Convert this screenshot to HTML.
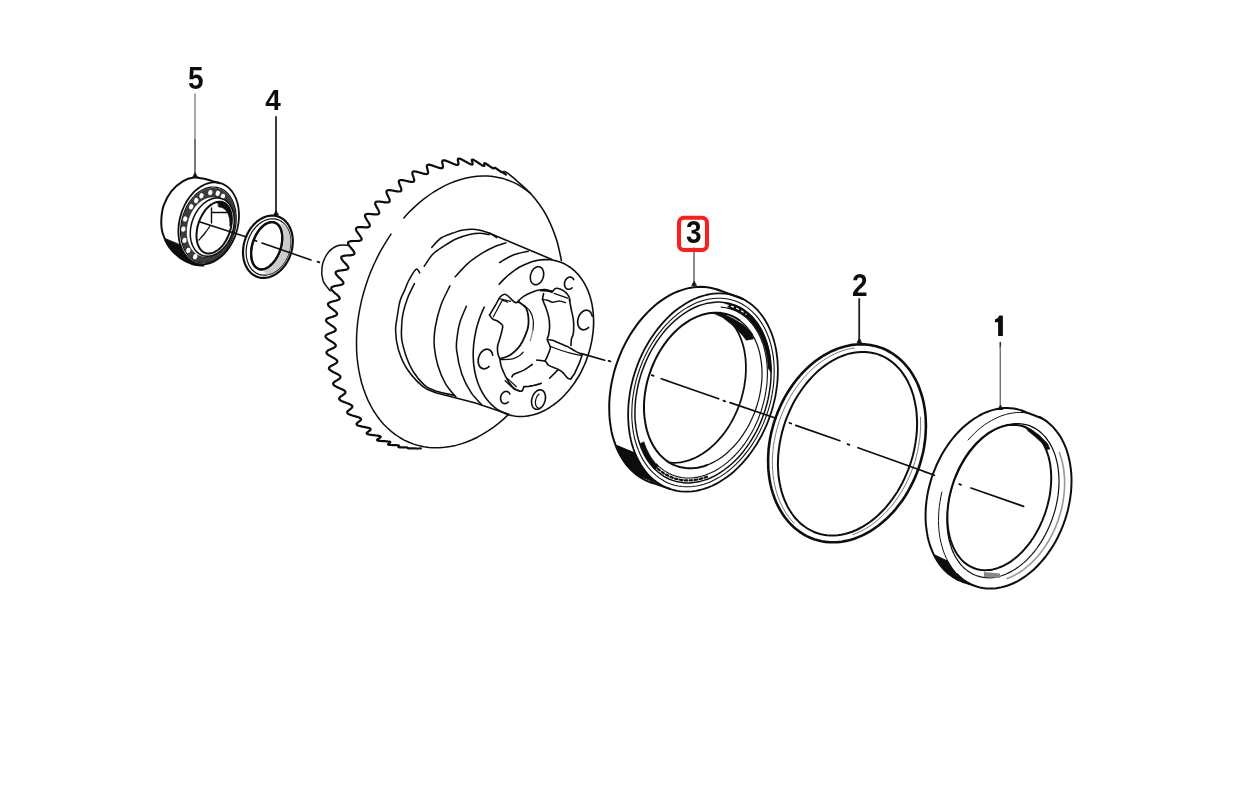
<!DOCTYPE html>
<html><head><meta charset="utf-8"><title>Parts diagram</title>
<style>
html,body{margin:0;padding:0;background:#fff;}
body{width:1256px;height:796px;overflow:hidden;font-family:"Liberation Sans",sans-serif;}
svg{display:block;}
text{font-family:"Liberation Sans",sans-serif;font-weight:bold;fill:#111;}
</style></head><body>
<svg width="1256" height="796" viewBox="0 0 1256 796" stroke-linecap="round" stroke-linejoin="round">
<defs><filter id="soft" x="0" y="0" width="1256" height="796" filterUnits="userSpaceOnUse"><feGaussianBlur stdDeviation="0.45"/></filter></defs>
<rect width="1256" height="796" fill="#fff"/>
<g filter="url(#soft)">
<text transform="translate(195.7 89.4) scale(1 1.09)" x="0" y="0" font-size="28" text-anchor="middle">5</text>
<text transform="translate(273.0 109.8) scale(1 1.03)" x="0" y="0" font-size="28" text-anchor="middle">4</text>
<text transform="translate(693.8 243.0) scale(1 1.09)" x="0" y="0" font-size="28" text-anchor="middle">3</text>
<text transform="translate(859.7 296.0) scale(1 1.09)" x="0" y="0" font-size="28" text-anchor="middle">2</text>
<path d="M999.3 315.4 L1002.9 315.4 L1002.9 336 L998.1 336 L998.1 322.2 L994.9 322.2 L994.9 319.6 Q998.2 318.6 999.3 315.4Z" fill="#111"/>
<path d="M195.0 94.0 L195.0 140.0" fill="none" stroke="#8a8a8a" stroke-width="1.5"/>
<path d="M195.0 140.0 L195.0 176.0" fill="none" stroke="#4a4a4a" stroke-width="1.5"/>
<path d="M276.0 117.0 L276.0 214.0" fill="none" stroke="#222" stroke-width="1.8"/>
<path d="M694.0 248.0 L694.0 285.0" fill="none" stroke="#666" stroke-width="1.5"/>
<path d="M859.2 299.0 L859.2 342.0" fill="none" stroke="#222" stroke-width="1.8"/>
<path d="M1000.3 342.5 L1000.3 347.0" fill="none" stroke="#333" stroke-width="1.6"/>
<path d="M1000.3 347.0 L1000.3 408.0" fill="none" stroke="#777" stroke-width="1.5"/>
<path d="M195.0 173.0 l-2.2 4 h4.4z" fill="#111" stroke="#111" stroke-width="0.8"/>
<path d="M276.0 211.0 l-2.2 4 h4.4z" fill="#111" stroke="#111" stroke-width="0.8"/>
<path d="M694.0 281.5 l-2.2 4 h4.4z" fill="#111" stroke="#111" stroke-width="0.8"/>
<path d="M859.2 338.8 l-2.2 4 h4.4z" fill="#111" stroke="#111" stroke-width="0.8"/>
<path d="M1000.3 405.5 l-2.2 4 h4.4z" fill="#111" stroke="#111" stroke-width="0.8"/>
<rect x="679" y="217.8" width="28" height="32.2" rx="5" ry="5" fill="none" stroke="#ff1a1a" stroke-width="4"/>
<path d="M164.6 238.6 C165.3 239.9 166.2 243.5 168.8 246.7 C171.4 249.9 176.1 255.1 180.1 258.0 C184.1 260.9 189.4 263.1 192.7 264.3 C196.0 265.5 198.8 265.2 200.0 265.4 L193.3 261.9 L191.8 261.1 L190.5 260.2 L189.2 259.1 L187.9 258.0 L186.7 256.7 L185.6 255.4 L184.6 253.9 L183.6 252.4 L182.7 250.7 L181.9 249.0 L181.1 247.2 L180.5 245.3Z" fill="#111" stroke="#111" stroke-width="1.0" />
<path d="M219.5 183.2 C218.1 182.8 213.8 181.4 211.0 180.6 C208.2 179.8 205.8 179.1 203.0 178.6 C200.2 178.1 197.4 177.1 194.0 177.5 C190.6 177.9 186.5 179.0 182.7 181.3 C178.9 183.6 174.5 187.4 171.3 191.4 C168.2 195.4 165.5 200.4 163.8 205.2 C162.1 210.0 161.5 215.7 161.3 220.3 C161.1 224.9 161.2 228.4 162.5 232.8 C163.8 237.2 165.9 242.5 168.8 246.7 C171.7 250.9 176.1 255.1 180.1 258.0 C184.1 260.9 188.8 263.0 192.7 264.3 C196.6 265.6 201.7 265.4 203.5 265.6" fill="none" stroke="#111" stroke-width="2.0" />
<path d="M220.4 183.2 L221.8 183.6 L223.2 184.2 L224.6 184.9 L225.9 185.7 L227.2 186.6 L228.4 187.6 L229.6 188.7 L230.7 189.9 L231.8 191.2 L232.8 192.6 L233.7 194.1 L234.6 195.6 L235.3 197.2 L236.1 198.9 L236.7 200.7 L237.3 202.5 L237.8 204.3 L238.2 206.3 L238.5 208.2 L238.7 210.3 L238.9 212.3 L239.0 214.4 L239.0 216.5 L238.9 218.6 L238.7 220.8 L238.5 222.9 L238.1 225.0 L237.7 227.2 L237.2 229.3 L236.6 231.4 L236.0 233.5 L235.3 235.6 L234.5 237.6 L233.6 239.6 L232.7 241.5 L231.7 243.4 L230.6 245.3 L229.5 247.0 L228.3 248.8 L227.1 250.4 L225.8 252.0 L224.5 253.5 L223.1 254.9 L221.7 256.2 L220.2 257.4 L218.7 258.6 L217.2 259.6 L215.7 260.5 L214.1 261.4 L212.6 262.1 L211.0 262.8 L209.4 263.3 L207.8 263.7 L206.2 264.0 L204.7 264.2 L203.1 264.3 L201.6 264.2 L200.0 264.1 L198.5 263.8 L197.0 263.4 L195.6 263.0 L194.2 262.4 L192.8 261.7 L191.5 260.9 L190.2 260.0 L189.0 259.0 L187.8 257.9 L186.7 256.7 L185.6 255.4 L184.6 254.0 L183.7 252.5 L182.8 251.0 L182.1 249.4 L181.3 247.7 L180.7 245.9 L180.1 244.1 L179.6 242.3 L179.2 240.3 L178.9 238.4 L178.7 236.3 L178.5 234.3 L178.4 232.2 L178.4 230.1 L178.5 228.0 L178.7 225.8 L178.9 223.7 L179.3 221.6 L179.7 219.4 L180.2 217.3 L180.8 215.2 L181.4 213.1 L182.1 211.0 L182.9 209.0 L183.8 207.0 L184.7 205.1 L185.7 203.2 L186.8 201.3 L187.9 199.6 L189.1 197.8 L190.3 196.2 L191.6 194.6 L192.9 193.1 L194.3 191.7 L195.7 190.4 L197.2 189.2 L198.7 188.0 L200.2 187.0 L201.7 186.1 L203.3 185.2 L204.8 184.5 L206.4 183.8 L208.0 183.3 L209.6 182.9 L211.2 182.6 L212.7 182.4 L214.3 182.3 L215.8 182.4 L217.4 182.5 L218.9 182.8 L220.4 183.2Z" fill="none" stroke="#111" stroke-width="1.8" />
<path d="M217.9 187.6 L219.3 188.0 L220.6 188.5 L221.9 189.1 L223.2 189.8 L224.4 190.6 L225.6 191.5 L226.7 192.5 L227.8 193.5 L228.8 194.7 L229.7 195.9 L230.6 197.3 L231.5 198.7 L232.3 200.1 L233.0 201.7 L233.6 203.3 L234.2 204.9 L234.7 206.6 L235.2 208.4 L235.5 210.2 L235.8 212.1 L236.0 214.0 L236.2 215.9 L236.2 217.8 L236.2 219.8 L236.1 221.8 L236.0 223.7 L235.7 225.7 L235.4 227.7 L235.0 229.7 L234.6 231.7 L234.0 233.6 L233.4 235.5 L232.7 237.4 L232.0 239.3 L231.2 241.1 L230.3 242.9 L229.4 244.6 L228.4 246.3 L227.4 247.9 L226.3 249.5 L225.1 251.0 L224.0 252.4 L222.7 253.7 L221.5 255.0 L220.2 256.2 L218.8 257.3 L217.5 258.3 L216.1 259.2 L214.7 260.0 L213.2 260.7 L211.8 261.4 L210.3 261.9 L208.9 262.3 L207.4 262.6 L206.0 262.9 L204.5 263.0 L203.1 263.0 L201.7 262.9 L200.2 262.7 L198.9 262.4 L197.5 262.0 L196.2 261.5 L194.9 260.9 L193.6 260.2 L192.4 259.4 L191.2 258.5 L190.1 257.5 L189.0 256.5 L188.0 255.3 L187.1 254.1 L186.2 252.7 L185.3 251.3 L184.5 249.9 L183.8 248.3 L183.2 246.7 L182.6 245.1 L182.1 243.4 L181.6 241.6 L181.3 239.8 L181.0 237.9 L180.8 236.0 L180.6 234.1 L180.6 232.2 L180.6 230.2 L180.7 228.2 L180.8 226.3 L181.1 224.3 L181.4 222.3 L181.8 220.3 L182.2 218.3 L182.8 216.4 L183.4 214.5 L184.1 212.6 L184.8 210.7 L185.6 208.9 L186.5 207.1 L187.4 205.4 L188.4 203.7 L189.4 202.1 L190.5 200.5 L191.7 199.0 L192.8 197.6 L194.1 196.3 L195.3 195.0 L196.6 193.8 L198.0 192.7 L199.3 191.7 L200.7 190.8 L202.1 190.0 L203.6 189.3 L205.0 188.6 L206.5 188.1 L207.9 187.7 L209.4 187.4 L210.8 187.1 L212.3 187.0 L213.7 187.0 L215.1 187.1 L216.6 187.3 L217.9 187.6Z" fill="none" stroke="#111" stroke-width="1.2" />
<path d="M217.7 188.7 L219.1 189.1 L220.4 189.6 L221.6 190.1 L222.9 190.8 L224.0 191.6 L225.2 192.5 L226.3 193.4 L227.3 194.5 L228.3 195.6 L229.3 196.8 L230.2 198.1 L231.0 199.5 L231.8 200.9 L232.5 202.4 L233.1 204.0 L233.7 205.6 L234.2 207.3 L234.6 209.0 L234.9 210.8 L235.2 212.6 L235.4 214.5 L235.6 216.4 L235.6 218.3 L235.6 220.2 L235.5 222.1 L235.4 224.1 L235.1 226.0 L234.8 228.0 L234.4 229.9 L234.0 231.8 L233.5 233.7 L232.9 235.6 L232.2 237.5 L231.5 239.3 L230.7 241.1 L229.8 242.8 L228.9 244.5 L228.0 246.2 L227.0 247.7 L225.9 249.3 L224.8 250.7 L223.6 252.1 L222.4 253.4 L221.2 254.7 L219.9 255.8 L218.6 256.9 L217.2 257.9 L215.9 258.8 L214.5 259.6 L213.1 260.3 L211.7 260.9 L210.3 261.4 L208.9 261.8 L207.4 262.2 L206.0 262.4 L204.6 262.5 L203.2 262.5 L201.8 262.4 L200.4 262.2 L199.1 261.9 L197.7 261.5 L196.4 261.0 L195.2 260.5 L193.9 259.8 L192.8 259.0 L191.6 258.1 L190.5 257.2 L189.5 256.1 L188.5 255.0 L187.5 253.8 L186.6 252.5 L185.8 251.1 L185.0 249.7 L184.3 248.2 L183.7 246.6 L183.1 245.0 L182.6 243.3 L182.2 241.6 L181.9 239.8 L181.6 238.0 L181.4 236.1 L181.2 234.2 L181.2 232.3 L181.2 230.4 L181.3 228.5 L181.4 226.5 L181.7 224.6 L182.0 222.6 L182.4 220.7 L182.8 218.8 L183.3 216.9 L183.9 215.0 L184.6 213.1 L185.3 211.3 L186.1 209.5 L187.0 207.8 L187.9 206.1 L188.8 204.4 L189.8 202.9 L190.9 201.3 L192.0 199.9 L193.2 198.5 L194.4 197.2 L195.6 195.9 L196.9 194.8 L198.2 193.7 L199.6 192.7 L200.9 191.8 L202.3 191.0 L203.7 190.3 L205.1 189.7 L206.5 189.2 L207.9 188.8 L209.4 188.4 L210.8 188.2 L212.2 188.1 L213.6 188.1 L215.0 188.2 L216.4 188.4 L217.7 188.7ZM216.2 197.5 L215.1 197.3 L214.0 197.1 L212.8 197.1 L211.7 197.1 L210.5 197.2 L209.4 197.3 L208.2 197.6 L207.0 197.9 L205.9 198.3 L204.7 198.8 L203.6 199.4 L202.5 200.0 L201.4 200.7 L200.3 201.5 L199.2 202.4 L198.2 203.3 L197.2 204.3 L196.2 205.4 L195.2 206.5 L194.3 207.7 L193.5 208.9 L192.6 210.1 L191.9 211.5 L191.1 212.8 L190.4 214.2 L189.8 215.7 L189.2 217.1 L188.7 218.6 L188.2 220.1 L187.8 221.7 L187.4 223.2 L187.1 224.8 L186.9 226.3 L186.7 227.9 L186.5 229.5 L186.5 231.0 L186.5 232.6 L186.5 234.1 L186.6 235.6 L186.8 237.1 L187.1 238.6 L187.4 240.0 L187.7 241.4 L188.1 242.7 L188.6 244.1 L189.1 245.3 L189.7 246.5 L190.3 247.7 L191.0 248.8 L191.7 249.8 L192.5 250.8 L193.3 251.7 L194.2 252.6 L195.1 253.4 L196.0 254.1 L197.0 254.7 L198.0 255.3 L199.0 255.7 L200.1 256.1 L201.2 256.5 L202.3 256.7 L203.4 256.9 L204.6 256.9 L205.7 256.9 L206.9 256.8 L208.0 256.7 L209.2 256.4 L210.4 256.1 L211.5 255.7 L212.7 255.2 L213.8 254.6 L214.9 254.0 L216.0 253.3 L217.1 252.5 L218.2 251.6 L219.2 250.7 L220.2 249.7 L221.2 248.6 L222.2 247.5 L223.1 246.3 L223.9 245.1 L224.8 243.9 L225.5 242.5 L226.3 241.2 L227.0 239.8 L227.6 238.3 L228.2 236.9 L228.7 235.4 L229.2 233.9 L229.6 232.3 L230.0 230.8 L230.3 229.2 L230.5 227.7 L230.7 226.1 L230.9 224.5 L230.9 223.0 L230.9 221.4 L230.9 219.9 L230.8 218.4 L230.6 216.9 L230.3 215.4 L230.0 214.0 L229.7 212.6 L229.3 211.3 L228.8 209.9 L228.3 208.7 L227.7 207.5 L227.1 206.3 L226.4 205.2 L225.7 204.2 L224.9 203.2 L224.1 202.3 L223.2 201.4 L222.3 200.6 L221.4 199.9 L220.4 199.3 L219.4 198.7 L218.4 198.3 L217.3 197.9 L216.2 197.5Z" fill="#3a3a3a" stroke="#111" stroke-width="0.5" fill-rule="evenodd"/>
<ellipse cx="201.5" cy="195.8" rx="2.1" ry="2.7" fill="#fff" stroke="none" transform="rotate(15 201.5 195.8)"/>
<ellipse cx="210.3" cy="192.6" rx="2.1" ry="2.7" fill="#fff" stroke="none" transform="rotate(15 210.3 192.6)"/>
<ellipse cx="217.8" cy="193.3" rx="2.1" ry="2.7" fill="#fff" stroke="none" transform="rotate(15 217.8 193.3)"/>
<ellipse cx="222.9" cy="196.4" rx="2.1" ry="2.7" fill="#fff" stroke="none" transform="rotate(15 222.9 196.4)"/>
<ellipse cx="196.2" cy="200.5" rx="2.1" ry="2.7" fill="#fff" stroke="none" transform="rotate(15 196.2 200.5)"/>
<ellipse cx="191.2" cy="206.8" rx="2.1" ry="2.7" fill="#fff" stroke="none" transform="rotate(15 191.2 206.8)"/>
<ellipse cx="185.2" cy="219.0" rx="2.1" ry="2.7" fill="#fff" stroke="none" transform="rotate(15 185.2 219.0)"/>
<ellipse cx="183.3" cy="229.1" rx="2.1" ry="2.7" fill="#fff" stroke="none" transform="rotate(15 183.3 229.1)"/>
<ellipse cx="184.5" cy="240.4" rx="2.1" ry="2.7" fill="#fff" stroke="none" transform="rotate(15 184.5 240.4)"/>
<ellipse cx="188.3" cy="250.4" rx="2.1" ry="2.7" fill="#fff" stroke="none" transform="rotate(15 188.3 250.4)"/>
<ellipse cx="195.2" cy="256.7" rx="2.1" ry="2.7" fill="#fff" stroke="none" transform="rotate(15 195.2 256.7)"/>
<path d="M222.0 198.8 L223.0 199.2 L224.0 199.7 L225.0 200.2 L225.9 200.8 L226.8 201.5 L227.6 202.3 L228.4 203.1 L229.2 204.0 L229.9 205.0 L230.5 206.0 L231.1 207.1 L231.7 208.2 L232.2 209.4 L232.7 210.6 L233.0 211.9 L233.4 213.2 L233.7 214.6 L233.9 215.9 L234.1 217.4 L234.2 218.8 L234.2 220.3 L234.2 221.8 L234.1 223.3 L234.0 224.8 L233.8 226.3 L233.5 227.8 L233.2 229.4 L232.8 230.9 L232.4 232.4 L231.9 233.9 L231.4 235.3 L230.8 236.8 L230.2 238.2 L229.5 239.6 L228.7 241.0 L227.9 242.3 L227.1 243.6 L226.3 244.8 L225.4 246.0 L224.4 247.1 L223.4 248.2 L222.4 249.2 L221.4 250.2 L220.3 251.1 L219.3 251.9 L218.2 252.7 L217.1 253.4 L215.9 254.0 L214.8 254.5 L213.6 255.0 L212.5 255.4 L211.3 255.7 L210.2 255.9 L209.1 256.1 L207.9 256.2 L206.8 256.2 L205.7 256.1 L204.6 256.0 L203.5 255.7 L202.5 255.4 L201.5 255.0 L200.5 254.5 L199.5 254.0 L198.6 253.4 L197.7 252.7 L196.9 251.9 L196.1 251.1 L195.3 250.2 L194.6 249.2 L194.0 248.2 L193.4 247.1 L192.8 246.0 L192.3 244.8 L191.8 243.6 L191.5 242.3 L191.1 241.0 L190.8 239.6 L190.6 238.3 L190.4 236.8 L190.3 235.4 L190.3 233.9 L190.3 232.4 L190.4 230.9 L190.5 229.4 L190.7 227.9 L191.0 226.4 L191.3 224.8 L191.7 223.3 L192.1 221.8 L192.6 220.3 L193.1 218.9 L193.7 217.4 L194.3 216.0 L195.0 214.6 L195.8 213.2 L196.6 211.9 L197.4 210.6 L198.2 209.4 L199.1 208.2 L200.1 207.1 L201.1 206.0 L202.1 205.0 L203.1 204.0 L204.2 203.1 L205.2 202.3 L206.3 201.5 L207.4 200.8 L208.6 200.2 L209.7 199.7 L210.9 199.2 L212.0 198.8 L213.2 198.5 L214.3 198.3 L215.4 198.1 L216.6 198.0 L217.7 198.0 L218.8 198.1 L219.9 198.2 L221.0 198.5 L222.0 198.8Z" fill="#fff" stroke="#111" stroke-width="1.5" />
<path d="M222.9 202.2 L223.7 202.6 L224.4 202.9 L225.2 203.4 L225.9 203.9 L226.6 204.5 L227.2 205.1 L227.8 205.8 L228.4 206.6 L228.9 207.4 L229.4 208.3 L229.8 209.2 L230.2 210.2 L230.6 211.2 L230.9 212.3 L231.2 213.4 L231.4 214.6 L231.6 215.7 L231.7 217.0 L231.8 218.2 L231.8 219.5 L231.8 220.8 L231.7 222.1 L231.6 223.4 L231.4 224.8 L231.2 226.1 L231.0 227.5 L230.7 228.9 L230.3 230.2 L229.9 231.5 L229.5 232.9 L229.0 234.2 L228.5 235.5 L227.9 236.8 L227.3 238.0 L226.7 239.3 L226.0 240.5 L225.3 241.6 L224.6 242.7 L223.9 243.8 L223.1 244.9 L222.3 245.8 L221.4 246.8 L220.6 247.7 L219.7 248.5 L218.8 249.3 L217.9 250.0 L217.0 250.6 L216.1 251.2 L215.2 251.7 L214.3 252.2 L213.3 252.6 L212.4 252.9 L211.5 253.2 L210.6 253.3 L209.7 253.5 L208.8 253.5 L207.9 253.5 L207.1 253.4 L206.2 253.2 L205.4 253.0 L204.6 252.6 L203.9 252.3 L203.1 251.8 L202.4 251.3 L201.7 250.7 L201.1 250.1 L200.5 249.4 L199.9 248.6 L199.4 247.8 L198.9 246.9 L198.5 246.0 L198.1 245.0 L197.7 244.0 L197.4 242.9 L197.1 241.8 L196.9 240.6 L196.7 239.5 L196.6 238.2 L196.5 237.0 L196.5 235.7 L196.5 234.4 L196.6 233.1 L196.7 231.8 L196.9 230.4 L197.1 229.1 L197.3 227.7 L197.6 226.3 L198.0 225.0 L198.4 223.7 L198.8 222.3 L199.3 221.0 L199.8 219.7 L200.4 218.4 L201.0 217.2 L201.6 215.9 L202.3 214.7 L203.0 213.6 L203.7 212.5 L204.4 211.4 L205.2 210.3 L206.0 209.4 L206.9 208.4 L207.7 207.5 L208.6 206.7 L209.5 205.9 L210.4 205.2 L211.3 204.6 L212.2 204.0 L213.1 203.5 L214.0 203.0 L215.0 202.6 L215.9 202.3 L216.8 202.0 L217.7 201.9 L218.6 201.7 L219.5 201.7 L220.4 201.7 L221.2 201.8 L222.1 202.0 L222.9 202.2Z" fill="#fff" stroke="#111" stroke-width="2.0" />
<path d="M217.7 201.9 L218.6 201.7 L219.5 201.7 L220.4 201.7 L221.2 201.8 L222.1 202.0 L222.9 202.2 L223.7 202.6 L224.4 202.9 L225.2 203.4 L225.9 203.9 L226.6 204.5 L227.2 205.1 L227.8 205.8 L228.4 206.6 L228.9 207.4 L229.4 208.3 L229.8 209.2 L230.2 210.2 L230.6 211.2 L230.9 212.3 L231.2 213.4 L231.4 214.6 L231.6 215.7 L231.7 217.0 L231.8 218.2 L231.8 219.5 L231.8 220.8 L231.7 222.1 L231.6 223.4 L231.4 224.8 L229.9 226.2 L229.9 224.9 L229.9 223.6 L229.9 222.3 L229.8 221.0 L229.7 219.8 L229.5 218.6 L229.2 217.5 L228.9 216.4 L228.6 215.3 L228.2 214.3 L227.8 213.4 L227.3 212.5 L226.8 211.7 L226.3 210.9 L225.7 210.2 L225.1 209.5 L224.4 209.0 L223.7 208.5 L223.0 208.0 L222.3 207.7 L221.5 207.4 L220.7 207.2 L219.9 207.0 L219.0 207.0Z" fill="#111" stroke="#111" stroke-width="0.8" />
<path d="M211.5 208.0 L211.5 223.0" fill="none" stroke="#111" stroke-width="1.4"/>
<path d="M211.5 212.5 L227.0 212.5" fill="none" stroke="#111" stroke-width="1.4"/>
<path d="M199.0 240.0 C200.0 238.8 203.2 235.3 205.0 233.0 C206.8 230.7 209.2 227.2 210.0 226.0" fill="none" stroke="#111" stroke-width="1.3" />
<path d="M278.3 216.6 L279.5 217.0 L280.6 217.6 L281.7 218.2 L282.8 218.9 L283.8 219.6 L284.8 220.5 L285.7 221.4 L286.6 222.4 L287.4 223.4 L288.2 224.5 L288.9 225.7 L289.6 226.9 L290.2 228.2 L290.8 229.6 L291.2 230.9 L291.7 232.4 L292.0 233.8 L292.3 235.3 L292.5 236.9 L292.7 238.4 L292.8 240.0 L292.8 241.6 L292.7 243.2 L292.6 244.8 L292.4 246.5 L292.2 248.1 L291.9 249.7 L291.5 251.3 L291.0 253.0 L290.5 254.5 L290.0 256.1 L289.3 257.7 L288.6 259.2 L287.9 260.6 L287.1 262.1 L286.2 263.5 L285.3 264.8 L284.4 266.1 L283.3 267.4 L282.3 268.6 L281.2 269.7 L280.1 270.8 L279.0 271.8 L277.8 272.7 L276.6 273.6 L275.3 274.4 L274.1 275.1 L272.8 275.7 L271.5 276.3 L270.2 276.8 L268.9 277.2 L267.6 277.5 L266.3 277.7 L265.0 277.8 L263.7 277.9 L262.4 277.9 L261.2 277.8 L259.9 277.6 L258.7 277.3 L257.5 276.9 L256.3 276.5 L255.2 275.9 L254.1 275.3 L253.0 274.6 L252.0 273.9 L251.0 273.0 L250.1 272.1 L249.2 271.1 L248.4 270.1 L247.6 269.0 L246.9 267.8 L246.2 266.6 L245.6 265.3 L245.0 263.9 L244.6 262.6 L244.1 261.1 L243.8 259.7 L243.5 258.2 L243.3 256.6 L243.1 255.1 L243.0 253.5 L243.0 251.9 L243.1 250.3 L243.2 248.7 L243.4 247.0 L243.6 245.4 L243.9 243.8 L244.3 242.2 L244.8 240.5 L245.3 239.0 L245.8 237.4 L246.5 235.8 L247.2 234.3 L247.9 232.9 L248.7 231.4 L249.6 230.0 L250.5 228.7 L251.4 227.4 L252.5 226.1 L253.5 224.9 L254.6 223.8 L255.7 222.7 L256.8 221.7 L258.0 220.8 L259.2 219.9 L260.5 219.1 L261.7 218.4 L263.0 217.8 L264.3 217.2 L265.6 216.7 L266.9 216.3 L268.2 216.0 L269.5 215.8 L270.8 215.7 L272.1 215.6 L273.4 215.6 L274.6 215.7 L275.9 215.9 L277.1 216.2 L278.3 216.6Z" fill="none" stroke="#111" stroke-width="2.2" />
<path d="M277.8 219.6 L278.9 220.0 L279.9 220.5 L280.8 221.0 L281.8 221.7 L282.7 222.4 L283.6 223.1 L284.4 223.9 L285.2 224.8 L285.9 225.8 L286.6 226.8 L287.3 227.8 L287.9 228.9 L288.4 230.1 L288.9 231.3 L289.3 232.5 L289.7 233.8 L290.0 235.2 L290.3 236.5 L290.4 237.9 L290.6 239.3 L290.6 240.7 L290.7 242.2 L290.6 243.6 L290.5 245.1 L290.3 246.6 L290.1 248.1 L289.8 249.5 L289.4 251.0 L289.0 252.5 L288.6 253.9 L288.1 255.3 L287.5 256.7 L286.9 258.1 L286.2 259.4 L285.5 260.7 L284.7 262.0 L283.9 263.2 L283.0 264.4 L282.1 265.5 L281.2 266.6 L280.2 267.7 L279.2 268.6 L278.2 269.5 L277.1 270.4 L276.0 271.2 L274.9 271.9 L273.8 272.6 L272.6 273.1 L271.5 273.6 L270.3 274.1 L269.2 274.4 L268.0 274.7 L266.8 274.9 L265.7 275.1 L264.5 275.1 L263.4 275.1 L262.3 275.0 L261.2 274.8 L260.1 274.6 L259.0 274.3 L257.9 273.9 L256.9 273.4 L256.0 272.9 L255.0 272.2 L254.1 271.5 L253.2 270.8 L252.4 270.0 L251.6 269.1 L250.9 268.1 L250.2 267.1 L249.5 266.1 L248.9 265.0 L248.4 263.8 L247.9 262.6 L247.5 261.4 L247.1 260.1 L246.8 258.7 L246.5 257.4 L246.4 256.0 L246.2 254.6 L246.2 253.2 L246.1 251.7 L246.2 250.3 L246.3 248.8 L246.5 247.3 L246.7 245.8 L247.0 244.4 L247.4 242.9 L247.8 241.4 L248.2 240.0 L248.7 238.6 L249.3 237.2 L249.9 235.8 L250.6 234.5 L251.3 233.2 L252.1 231.9 L252.9 230.7 L253.8 229.5 L254.7 228.4 L255.6 227.3 L256.6 226.2 L257.6 225.3 L258.6 224.4 L259.7 223.5 L260.8 222.7 L261.9 222.0 L263.0 221.3 L264.2 220.8 L265.3 220.3 L266.5 219.8 L267.6 219.5 L268.8 219.2 L270.0 219.0 L271.1 218.8 L272.3 218.8 L273.4 218.8 L274.5 218.9 L275.6 219.1 L276.7 219.3 L277.8 219.6Z" fill="none" stroke="#111" stroke-width="1.2" />
<path d="M274.7 222.6 L275.4 222.8 L276.0 223.2 L276.7 223.6 L277.3 224.0 L277.9 224.5 L278.4 225.1 L279.0 225.7 L279.4 226.4 L279.9 227.2 L280.3 228.0 L280.7 228.8 L281.0 229.7 L281.3 230.6 L281.6 231.6 L281.8 232.6 L282.0 233.7 L282.1 234.7 L282.2 235.8 L282.3 237.0 L282.3 238.1 L282.3 239.3 L282.2 240.5 L282.1 241.7 L281.9 243.0 L281.7 244.2 L281.5 245.4 L281.2 246.7 L280.9 247.9 L280.5 249.1 L280.1 250.4 L279.7 251.6 L279.2 252.8 L278.7 253.9 L278.1 255.1 L277.6 256.2 L277.0 257.3 L276.3 258.4 L275.7 259.4 L275.0 260.4 L274.3 261.3 L273.6 262.3 L272.8 263.1 L272.1 263.9 L271.3 264.7 L270.5 265.4 L269.7 266.1 L268.9 266.7 L268.1 267.2 L267.3 267.7 L266.5 268.1 L265.7 268.5 L264.9 268.8 L264.0 269.1 L263.2 269.2 L262.5 269.3 L261.7 269.4 L260.9 269.4 L260.2 269.3 L259.4 269.2 L258.7 268.9 L258.0 268.7 L257.4 268.3 L256.7 267.9 L256.1 267.5 L255.5 267.0 L255.0 266.4 L254.4 265.8 L254.0 265.1 L253.5 264.3 L253.1 263.5 L252.7 262.7 L252.4 261.8 L252.1 260.9 L251.8 259.9 L251.6 258.9 L251.4 257.8 L251.3 256.8 L251.2 255.7 L251.1 254.5 L251.1 253.4 L251.1 252.2 L251.2 251.0 L251.3 249.8 L251.5 248.5 L251.7 247.3 L251.9 246.1 L252.2 244.8 L252.5 243.6 L252.9 242.4 L253.3 241.1 L253.7 239.9 L254.2 238.7 L254.7 237.6 L255.3 236.4 L255.8 235.3 L256.4 234.2 L257.1 233.1 L257.7 232.1 L258.4 231.1 L259.1 230.2 L259.8 229.2 L260.6 228.4 L261.3 227.6 L262.1 226.8 L262.9 226.1 L263.7 225.4 L264.5 224.8 L265.3 224.3 L266.1 223.8 L266.9 223.4 L267.7 223.0 L268.5 222.7 L269.4 222.4 L270.2 222.3 L270.9 222.2 L271.7 222.1 L272.5 222.1 L273.2 222.2 L274.0 222.3 L274.7 222.6Z" fill="none" stroke="#111" stroke-width="2.2" />
<path d="M283.9 224.1 L284.7 224.9 L285.4 225.8 L286.1 226.8 L286.8 227.9 L287.4 228.9 L287.9 230.1 L288.4 231.3 L288.8 232.5 L289.2 233.8 L289.5 235.1 L289.8 236.4 L290.0 237.8 L290.2 239.2 L290.2 240.6 L290.2 242.1 L290.2 243.5 L290.1 245.0 L289.9 246.5 L289.7 248.0 L289.4 249.4 L289.1 250.9 L288.7 252.3 L288.2 253.8 L287.7 255.2 L287.1 256.6 L286.5 257.9 L285.8 259.3 L285.1 260.6 L284.3 261.8 L283.5 263.1 L282.6 264.2 L281.7 265.4 L280.8 266.4 L279.8 267.4 L278.8 268.4 L277.8 269.3 L276.7 270.1 L275.6 270.9 L274.5 271.6 L273.4 272.3 L272.3 272.8 L271.1 273.3 L270.0 273.7 L268.8 274.1 L267.6 274.3 L266.5 274.5 L263.8 270.6 L264.7 270.4 L265.6 270.1 L266.5 269.7 L267.4 269.3 L268.3 268.8 L269.2 268.2 L270.1 267.6 L271.0 266.9 L271.9 266.2 L272.7 265.4 L273.6 264.5 L274.4 263.6 L275.2 262.6 L276.0 261.6 L276.7 260.5 L277.4 259.4 L278.1 258.3 L278.8 257.1 L279.4 255.9 L280.0 254.7 L280.5 253.4 L281.0 252.2 L281.5 250.9 L281.9 249.5 L282.3 248.2 L282.7 246.9 L283.0 245.5 L283.2 244.2 L283.4 242.9 L283.6 241.6 L283.7 240.3 L283.8 239.0 L283.8 237.7 L283.7 236.4 L283.7 235.2 L283.5 234.0 L283.3 232.8 L283.1 231.7 L282.8 230.6 L282.5 229.6 L282.2 228.6 L281.8 227.6 L281.3 226.7 L280.8 225.9 L280.3 225.1 L279.7 224.4Z" fill="#ccc" stroke="#ccc" stroke-width="0.5" />
<path d="M274.7 222.6 L275.4 222.8 L276.0 223.2 L276.7 223.6 L277.3 224.0 L277.9 224.5 L278.4 225.1 L279.0 225.7 L279.4 226.4 L279.9 227.2 L280.3 228.0 L280.7 228.8 L281.0 229.7 L281.3 230.6 L281.6 231.6 L281.8 232.6 L282.0 233.7 L282.1 234.7 L282.2 235.8 L282.3 237.0 L282.3 238.1 L282.3 239.3 L282.2 240.5 L282.1 241.7 L281.9 243.0 L281.7 244.2 L281.5 245.4 L281.2 246.7 L280.9 247.9 L280.5 249.1 L280.1 250.4 L279.7 251.6 L279.2 252.8 L278.7 253.9 L278.1 255.1 L277.6 256.2 L277.0 257.3 L276.3 258.4 L275.7 259.4 L275.0 260.4 L274.3 261.3 L273.6 262.3 L272.8 263.1 L272.1 263.9 L271.3 264.7 L270.5 265.4 L269.7 266.1 L268.9 266.7 L268.1 267.2 L267.3 267.7 L266.5 268.1 L265.7 268.5 L264.9 268.8 L264.0 269.1 L263.2 269.2 L262.5 269.3 L261.7 269.4 L260.9 269.4 L260.2 269.3 L259.4 269.2 L258.7 268.9 L258.0 268.7 L257.4 268.3 L256.7 267.9 L256.1 267.5 L255.5 267.0 L255.0 266.4 L254.4 265.8 L254.0 265.1 L253.5 264.3 L253.1 263.5 L252.7 262.7 L252.4 261.8 L252.1 260.9 L251.8 259.9 L251.6 258.9 L251.4 257.8 L251.3 256.8 L251.2 255.7 L251.1 254.5 L251.1 253.4 L251.1 252.2 L251.2 251.0 L251.3 249.8 L251.5 248.5 L251.7 247.3 L251.9 246.1 L252.2 244.8 L252.5 243.6 L252.9 242.4 L253.3 241.1 L253.7 239.9 L254.2 238.7 L254.7 237.6 L255.3 236.4 L255.8 235.3 L256.4 234.2 L257.1 233.1 L257.7 232.1 L258.4 231.1 L259.1 230.2 L259.8 229.2 L260.6 228.4 L261.3 227.6 L262.1 226.8 L262.9 226.1 L263.7 225.4 L264.5 224.8 L265.3 224.3 L266.1 223.8 L266.9 223.4 L267.7 223.0 L268.5 222.7 L269.4 222.4 L270.2 222.3 L270.9 222.2 L271.7 222.1 L272.5 222.1 L273.2 222.2 L274.0 222.3 L274.7 222.6Z" fill="none" stroke="#111" stroke-width="2.2" />
<path d="M505.9 174.6 L505.6 174.4 L505.4 174.2 L505.1 174.0 L504.9 173.8 L504.7 173.6 L504.4 173.5 L504.2 173.3 L504.0 173.2 L503.8 173.0 L503.6 172.9 L503.4 172.8 L503.3 172.7 L503.1 172.6 L502.9 172.5 L502.8 172.5 L502.6 172.4 L502.5 172.3 L502.3 172.3 L502.2 172.2 L502.0 172.2 L501.9 172.1 L501.8 172.1 L501.6 172.0 L501.5 171.9 L501.3 171.9 L501.1 171.8 L501.0 171.7 L500.8 171.6 L500.5 171.5 L500.3 171.3 L500.1 171.2 L499.8 171.0 L499.5 170.8 L499.2 170.6 L498.9 170.4 L498.6 170.2 L498.3 169.9 L498.0 169.7 L497.6 169.5 L497.3 169.2 L497.0 169.0 L496.7 168.8 L496.4 168.6 L496.1 168.4 L495.9 168.3 L495.6 168.1 L495.4 168.0 L495.2 167.9 L495.0 167.9 L494.9 167.8 L494.7 167.8 L494.6 167.8 L494.5 167.8 L494.4 167.8 L494.3 167.9 L494.3 168.0 L494.2 168.0 L494.2 168.1 L494.1 168.2 L494.1 168.3 L494.0 168.3 L493.9 168.4 L493.8 168.4 L493.7 168.5 L493.6 168.5 L493.4 168.4 L493.3 168.4 L493.1 168.3 L492.8 168.2 L492.6 168.1 L492.3 167.9 L492.0 167.7 L491.6 167.5 L491.3 167.3 L490.9 167.0 L490.5 166.7 L490.1 166.5 L489.6 166.2 L489.2 165.9 L488.8 165.6 L488.3 165.3 L487.9 165.0 L487.5 164.7 L487.1 164.4 L486.7 164.2 L486.3 163.9 L486.0 163.7 L485.7 163.6 L485.4 163.4 L485.1 163.3 L484.9 163.3 L484.7 163.2 L484.6 163.2 L484.4 163.2 L484.3 163.3 L484.3 163.4 L484.2 163.5 L484.2 163.7 L484.2 163.8 L484.2 164.0 L484.2 164.2 L484.3 164.4 L484.3 164.6 L484.3 164.8 L484.4 165.0 L484.4 165.2 L484.4 165.4 L484.4 165.6 L484.4 165.7 L484.3 165.8 L484.2 165.9 L484.1 166.0 L484.0 166.0 L483.8 166.0 L483.6 165.9 L483.3 165.8 L483.0 165.7 L482.7 165.6 L482.3 165.4 L481.9 165.2 L481.5 164.9 L481.0 164.6 L480.6 164.3 L480.1 164.0 L479.5 163.6 L479.0 163.3 L478.5 162.9 L477.9 162.6 L477.4 162.2 L476.8 161.8 L476.3 161.5 L475.8 161.2 L475.3 160.9 L474.8 160.6 L474.4 160.3 L473.9 160.1 L473.5 159.9 L473.2 159.7 L472.9 159.6 L472.6 159.5 L472.4 159.5 L472.2 159.5 L472.1 159.6 L471.9 159.7 L471.9 159.8 L471.8 160.0 L471.8 160.2 L471.8 160.4 L471.9 160.6 L471.9 160.9 L472.0 161.2 L472.1 161.5 L472.2 161.8 L472.3 162.1 L472.4 162.4 L472.5 162.7 L472.5 162.9 L472.6 163.2 L472.6 163.5 L472.7 163.7 L472.7 163.9 L472.6 164.1 L472.6 164.3 L472.5 164.4 L472.4 164.5 L472.2 164.6 L472.0 164.6 L471.8 164.6 L471.6 164.5 L471.3 164.5 L470.9 164.4 L470.6 164.2 L470.2 164.0 L469.7 163.8 L469.3 163.6 L468.8 163.4 L468.3 163.1 L467.8 162.8 L467.3 162.5 L466.7 162.2 L466.2 161.9 L465.6 161.6 L465.0 161.3 L464.5 161.0 L463.9 160.6 L463.4 160.4 L462.8 160.1 L462.3 159.8 L461.8 159.6 L461.4 159.3 L460.9 159.1 L460.5 159.0 L460.1 158.8 L459.8 158.7 L459.4 158.6 L459.1 158.6 L458.9 158.6 L458.6 158.6 L458.4 158.6 L458.3 158.7 L458.1 158.8 L458.0 159.0 L457.9 159.1 L457.9 159.3 L457.9 159.6 L457.9 159.8 L457.9 160.1 L457.9 160.3 L457.9 160.6 L458.0 160.9 L458.1 161.2 L458.1 161.5 L458.2 161.9 L458.3 162.2 L458.3 162.5 L458.4 162.8 L458.4 163.1 L458.5 163.3 L458.5 163.6 L458.5 163.8 L458.4 164.1 L458.4 164.3 L458.3 164.4 L458.2 164.6 L458.1 164.7 L457.9 164.8 L457.7 164.9 L457.5 164.9 L457.2 164.9 L456.9 164.9 L456.6 164.9 L456.3 164.8 L455.9 164.7 L455.5 164.6 L455.1 164.5 L454.6 164.3 L454.1 164.1 L453.6 163.9 L453.1 163.7 L452.6 163.5 L452.1 163.3 L451.5 163.0 L451.0 162.8 L450.4 162.5 L449.9 162.3 L449.3 162.1 L448.8 161.8 L448.2 161.6 L447.7 161.4 L447.2 161.2 L446.7 161.0 L446.2 160.8 L445.7 160.7 L445.3 160.5 L444.9 160.4 L444.5 160.3 L444.1 160.3 L443.8 160.3 L443.5 160.3 L443.2 160.3 L443.0 160.4 L442.8 160.5 L442.6 160.6 L442.5 160.7 L442.4 160.9 L442.3 161.1 L442.2 161.4 L442.2 161.6 L442.2 161.9 L442.2 162.2 L442.2 162.5 L442.3 162.8 L442.4 163.2 L442.4 163.5 L442.5 163.8 L442.6 164.2 L442.7 164.6 L442.7 164.9 L442.8 165.3 L442.9 165.6 L442.9 165.9 L443.0 166.2 L443.0 166.5 L443.0 166.8 L442.9 167.1 L442.9 167.3 L442.8 167.5 L442.7 167.7 L442.5 167.9 L442.4 168.0 L442.1 168.1 L441.9 168.2 L441.6 168.2 L441.3 168.2 L440.9 168.2 L440.6 168.2 L440.2 168.1 L439.7 168.0 L439.2 167.9 L438.8 167.7 L438.2 167.6 L437.7 167.4 L437.1 167.2 L436.6 167.0 L436.0 166.8 L435.4 166.6 L434.8 166.4 L434.2 166.2 L433.6 166.0 L433.1 165.7 L432.5 165.6 L431.9 165.4 L431.4 165.2 L430.9 165.1 L430.4 164.9 L429.9 164.8 L429.5 164.8 L429.0 164.7 L428.7 164.7 L428.3 164.7 L428.0 164.8 L427.7 164.8 L427.5 164.9 L427.3 165.1 L427.1 165.2 L427.0 165.5 L426.9 165.7 L426.9 165.9 L426.8 166.2 L426.8 166.5 L426.9 166.9 L426.9 167.2 L427.0 167.6 L427.1 168.0 L427.2 168.4 L427.3 168.8 L427.4 169.2 L427.5 169.6 L427.6 170.0 L427.8 170.4 L427.9 170.8 L427.9 171.2 L428.0 171.6 L428.1 171.9 L428.1 172.3 L428.1 172.6 L428.0 172.9 L428.0 173.1 L427.9 173.4 L427.7 173.5 L427.5 173.7 L427.3 173.8 L427.1 173.9 L426.8 174.0 L426.4 174.1 L426.1 174.1 L425.6 174.0 L425.2 174.0 L424.7 173.9 L424.2 173.8 L423.7 173.7 L423.1 173.5 L422.5 173.4 L421.9 173.2 L421.3 173.0 L420.7 172.8 L420.1 172.7 L419.4 172.5 L418.8 172.3 L418.2 172.1 L417.6 172.0 L417.0 171.8 L416.5 171.7 L415.9 171.6 L415.4 171.5 L414.9 171.4 L414.5 171.4 L414.1 171.4 L413.7 171.5 L413.4 171.5 L413.1 171.6 L412.9 171.8 L412.7 172.0 L412.6 172.2 L412.4 172.4 L412.4 172.7 L412.3 173.0 L412.3 173.4 L412.4 173.7 L412.5 174.1 L412.6 174.5 L412.7 174.9 L412.8 175.4 L413.0 175.8 L413.1 176.3 L413.3 176.8 L413.4 177.2 L413.6 177.7 L413.8 178.1 L413.9 178.6 L414.0 179.0 L414.1 179.4 L414.2 179.8 L414.2 180.1 L414.2 180.5 L414.1 180.8 L414.1 181.0 L413.9 181.3 L413.8 181.5 L413.5 181.6 L413.3 181.8 L413.0 181.9 L412.6 181.9 L412.2 182.0 L411.8 182.0 L411.3 181.9 L410.8 181.9 L410.2 181.8 L409.7 181.7 L409.0 181.6 L408.4 181.4 L407.8 181.3 L407.1 181.1 L406.5 181.0 L405.8 180.8 L405.2 180.6 L404.5 180.5 L403.9 180.4 L403.3 180.2 L402.7 180.2 L402.1 180.1 L401.6 180.0 L401.1 180.0 L400.7 180.0 L400.3 180.1 L399.9 180.2 L399.6 180.3 L399.4 180.5 L399.2 180.7 L399.0 180.9 L398.9 181.2 L398.9 181.5 L398.9 181.8 L398.9 182.2 L399.0 182.6 L399.1 183.0 L399.2 183.5 L399.4 183.9 L399.5 184.4 L399.7 184.9 L399.9 185.4 L400.2 185.9 L400.4 186.4 L400.6 186.9 L400.8 187.4 L401.0 187.9 L401.1 188.3 L401.2 188.8 L401.3 189.2 L401.4 189.6 L401.4 189.9 L401.3 190.3 L401.3 190.5 L401.1 190.8 L400.9 191.0 L400.7 191.2 L400.4 191.3 L400.1 191.4 L399.7 191.5 L399.2 191.5 L398.7 191.5 L398.2 191.5 L397.6 191.4 L397.0 191.4 L396.4 191.3 L395.8 191.2 L395.1 191.0 L394.4 190.9 L393.7 190.8 L393.0 190.6 L392.3 190.5 L391.7 190.4 L391.0 190.3 L390.4 190.2 L389.8 190.2 L389.3 190.2 L388.7 190.2 L388.3 190.2 L387.9 190.3 L387.5 190.4 L387.2 190.5 L386.9 190.7 L386.7 190.9 L386.6 191.2 L386.5 191.5 L386.5 191.8 L386.5 192.2 L386.5 192.6 L386.7 193.0 L386.8 193.5 L387.0 194.0 L387.2 194.5 L387.4 195.0 L387.7 195.5 L388.0 196.1 L388.2 196.6 L388.5 197.2 L388.7 197.7 L389.0 198.2 L389.2 198.7 L389.4 199.2 L389.5 199.6 L389.6 200.1 L389.7 200.5 L389.7 200.8 L389.7 201.2 L389.6 201.5 L389.4 201.7 L389.2 201.9 L388.9 202.1 L388.6 202.2 L388.2 202.3 L387.8 202.4 L387.3 202.4 L386.7 202.4 L386.2 202.4 L385.5 202.4 L384.9 202.3 L384.2 202.2 L383.5 202.1 L382.8 202.0 L382.1 201.9 L381.4 201.8 L380.6 201.7 L380.0 201.6 L379.3 201.6 L378.7 201.5 L378.1 201.5 L377.5 201.5 L377.0 201.6 L376.6 201.7 L376.2 201.8 L375.9 201.9 L375.6 202.1 L375.4 202.4 L375.3 202.7 L375.2 203.0 L375.2 203.3 L375.2 203.7 L375.3 204.2 L375.5 204.6 L375.6 205.1 L375.9 205.6 L376.1 206.1 L376.4 206.7 L376.7 207.3 L377.1 207.8 L377.4 208.4 L377.7 208.9 L378.0 209.5 L378.3 210.0 L378.6 210.5 L378.8 211.0 L379.0 211.5 L379.1 212.0 L379.2 212.4 L379.2 212.7 L379.2 213.1 L379.1 213.4 L378.9 213.6 L378.7 213.9 L378.4 214.0 L378.0 214.2 L377.6 214.3 L377.1 214.4 L376.6 214.4 L376.0 214.4 L375.4 214.4 L374.7 214.4 L374.0 214.3 L373.3 214.3 L372.6 214.2 L371.8 214.1 L371.1 214.1 L370.4 214.0 L369.7 214.0 L369.0 213.9 L368.3 213.9 L367.7 213.9 L367.2 214.0 L366.7 214.1 L366.2 214.2 L365.9 214.3 L365.5 214.5 L365.3 214.8 L365.1 215.0 L365.0 215.3 L365.0 215.7 L365.0 216.1 L365.1 216.5 L365.3 217.0 L365.5 217.4 L365.7 218.0 L366.0 218.5 L366.4 219.0 L366.7 219.6 L367.1 220.2 L367.5 220.8 L367.8 221.3 L368.2 221.9 L368.6 222.5 L368.9 223.0 L369.2 223.5 L369.4 224.0 L369.6 224.5 L369.7 224.9 L369.8 225.3 L369.8 225.7 L369.8 226.0 L369.6 226.3 L369.4 226.6 L369.2 226.8 L368.8 226.9 L368.4 227.1 L367.9 227.2 L367.4 227.3 L366.8 227.3 L366.2 227.3 L365.5 227.3 L364.8 227.3 L364.0 227.3 L363.3 227.2 L362.5 227.2 L361.8 227.2 L361.0 227.2 L360.3 227.1 L359.6 227.2 L359.0 227.2 L358.4 227.2 L357.8 227.3 L357.3 227.4 L356.9 227.6 L356.6 227.8 L356.3 228.0 L356.1 228.3 L356.0 228.6 L355.9 228.9 L356.0 229.3 L356.1 229.7 L356.2 230.2 L356.4 230.7 L356.7 231.2 L357.0 231.7 L357.4 232.3 L357.8 232.8 L358.2 233.4 L358.6 234.0 L359.1 234.6 L359.5 235.1 L359.9 235.7 L360.3 236.2 L360.6 236.8 L360.9 237.3 L361.2 237.8 L361.4 238.2 L361.5 238.6 L361.6 239.0 L361.6 239.4 L361.5 239.7 L361.3 240.0 L361.0 240.2 L360.7 240.4 L360.3 240.6 L359.9 240.7 L359.3 240.8 L358.7 240.9 L358.1 240.9 L357.4 241.0 L356.7 241.0 L355.9 241.0 L355.2 241.0 L354.4 241.0 L353.7 241.0 L352.9 241.0 L352.2 241.1 L351.5 241.1 L350.8 241.2 L350.2 241.3 L349.7 241.4 L349.2 241.6 L348.8 241.7 L348.5 242.0 L348.3 242.2 L348.1 242.5 L348.0 242.8 L348.0 243.2 L348.1 243.6 L348.2 244.0 L348.4 244.5 L348.7 245.0 L349.0 245.5 L349.4 246.0 L349.9 246.6 L350.3 247.1 L350.8 247.7 L351.3 248.3 L351.7 248.8 L352.2 249.4 L352.7 250.0 L353.1 250.5 L353.4 251.0 L353.8 251.5 L354.0 252.0 L354.2 252.4 L354.4 252.8 L354.4 253.2 L354.4 253.5 L354.3 253.9 L354.1 254.1 L353.8 254.4 L353.5 254.6 L353.1 254.8 L352.6 254.9 L352.0 255.0 L351.4 255.1 L350.7 255.2 L350.0 255.3 L349.3 255.3 L348.5 255.4 L347.7 255.4 L347.0 255.5 L346.2 255.5 L345.5 255.6 L344.8 255.7 L344.1 255.8 L343.5 255.9 L343.0 256.0 L342.5 256.2 L342.1 256.4 L341.7 256.6 L341.5 256.9 L341.3 257.2 L341.2 257.5 L341.2 257.9 L341.3 258.3 L341.5 258.7 L341.7 259.1 L342.0 259.6 L342.4 260.1 L342.8 260.6 L343.2 261.2 L343.7 261.7 L344.2 262.3 L344.7 262.8 L345.3 263.4 L345.8 263.9 L346.3 264.4 L346.7 265.0 L347.2 265.5 L347.5 266.0 L347.8 266.4 L348.1 266.9 L348.3 267.3 L348.4 267.7 L348.4 268.0 L348.3 268.3 L348.1 268.6 L347.9 268.9 L347.6 269.1 L347.2 269.3 L346.7 269.5 L346.2 269.7 L345.6 269.8 L344.9 269.9 L344.2 270.0 L343.5 270.1 L342.7 270.2 L342.0 270.3 L341.2 270.4 L340.5 270.5 L339.7 270.6 L339.0 270.7 L338.4 270.8 L337.8 271.0 L337.2 271.2 L336.8 271.4 L336.4 271.6 L336.0 271.8 L335.8 272.1 L335.6 272.4 L335.6 272.7 L335.6 273.1 L335.7 273.5 L335.9 273.9 L336.2 274.4 L336.5 274.8 L336.9 275.3 L337.3 275.8 L337.8 276.3 L338.3 276.8 L338.9 277.4 L339.4 277.9 L340.0 278.4 L340.6 278.9 L341.1 279.4 L341.6 280.0 L342.0 280.4 L342.4 280.9 L342.8 281.4 L343.1 281.8 L343.3 282.2 L343.4 282.6 L343.4 282.9 L343.4 283.3 L343.3 283.6 L343.1 283.8 L342.8 284.1 L342.4 284.3 L341.9 284.5 L341.4 284.7 L340.8 284.9 L340.2 285.0 L339.5 285.2 L338.8 285.3 L338.1 285.5 L337.3 285.6 L336.6 285.7 L335.9 285.8 L335.1 286.0 L334.5 286.1 L333.8 286.3 L333.2 286.5 L332.7 286.7 L332.2 286.9 L331.9 287.2 L331.6 287.4 L331.3 287.7 L331.2 288.0 L331.2 288.4 L331.2 288.7 L331.3 289.1 L331.5 289.5 L331.8 289.9 L332.1 290.4 L332.6 290.8 L333.0 291.3 L333.5 291.8 L334.1 292.3 L334.6 292.8 L335.2 293.3 L335.8 293.8 L336.4 294.2 L337.0 294.7 L337.5 295.2 L338.0 295.7 L338.4 296.1 L338.8 296.6 L339.1 297.0 L339.4 297.4 L339.6 297.8 L339.6 298.1 L339.7 298.4 L339.6 298.8 L339.4 299.1 L339.2 299.3 L338.8 299.6 L338.4 299.8 L337.9 300.0 L337.4 300.2 L336.8 300.4 L336.2 300.6 L335.5 300.8 L334.8 301.0 L334.1 301.1 L333.4 301.3 L332.7 301.5 L332.0 301.6 L331.3 301.8 L330.7 302.0 L330.1 302.2 L329.6 302.5 L329.1 302.7 L328.7 302.9 L328.4 303.2 L328.2 303.5 L328.0 303.8 L328.0 304.1 L328.0 304.5 L328.1 304.9 L328.3 305.2 L328.5 305.6 L328.9 306.0 L329.3 306.5 L329.7 306.9 L330.3 307.4 L330.8 307.8 L331.4 308.3 L332.0 308.7 L332.6 309.2 L333.2 309.6 L333.8 310.1 L334.4 310.6 L334.9 311.0 L335.4 311.4 L335.9 311.8 L336.2 312.3 L336.6 312.6 L336.8 313.0 L337.0 313.4 L337.1 313.7 L337.1 314.1 L337.0 314.4 L336.8 314.7 L336.6 314.9 L336.3 315.2 L335.9 315.5 L335.4 315.7 L334.9 315.9 L334.4 316.1 L333.8 316.4 L333.1 316.6 L332.4 316.8 L331.8 317.0 L331.1 317.2 L330.4 317.4 L329.8 317.6 L329.1 317.8 L328.5 318.0 L328.0 318.3 L327.5 318.5 L327.1 318.8 L326.7 319.0 L326.4 319.3 L326.2 319.6 L326.1 319.9 L326.1 320.2 L326.1 320.6 L326.2 320.9 L326.4 321.3 L326.7 321.7 L327.0 322.1 L327.5 322.5 L327.9 322.9 L328.4 323.3 L329.0 323.7 L329.6 324.1 L330.2 324.5 L330.8 325.0 L331.4 325.4 L332.0 325.8 L332.6 326.2 L333.2 326.6 L333.7 327.0 L334.2 327.4 L334.6 327.8 L335.0 328.2 L335.3 328.6 L335.5 328.9 L335.7 329.2 L335.8 329.6 L335.7 329.9 L335.7 330.2 L335.5 330.5 L335.3 330.8 L335.0 331.0 L334.6 331.3 L334.1 331.6 L333.7 331.8 L333.1 332.0 L332.5 332.3 L331.9 332.5 L331.3 332.7 L330.7 333.0 L330.0 333.2 L329.4 333.4 L328.8 333.7 L328.2 333.9 L327.7 334.2 L327.2 334.4 L326.8 334.7 L326.4 335.0 L326.1 335.2 L325.8 335.5 L325.7 335.8 L325.6 336.1 L325.5 336.4 L325.6 336.8 L325.7 337.1 L325.9 337.5 L326.2 337.8 L326.6 338.2 L327.0 338.5 L327.5 338.9 L328.0 339.3 L328.5 339.7 L329.1 340.1 L329.7 340.4 L330.3 340.8 L331.0 341.2 L331.6 341.6 L332.2 342.0 L332.8 342.3 L333.3 342.7 L333.9 343.1 L334.3 343.4 L334.7 343.8 L335.1 344.1 L335.4 344.5 L335.6 344.8 L335.7 345.1 L335.8 345.4 L335.8 345.7 L335.7 346.0 L335.6 346.3 L335.4 346.6 L335.1 346.9 L334.7 347.2 L334.3 347.4 L333.9 347.7 L333.4 348.0 L332.9 348.2 L332.3 348.5 L331.7 348.7 L331.2 349.0 L330.6 349.2 L330.0 349.5 L329.4 349.7 L328.9 350.0 L328.4 350.2 L328.0 350.5 L327.6 350.8 L327.2 351.1 L326.9 351.3 L326.7 351.6 L326.6 351.9 L326.5 352.2 L326.5 352.5 L326.5 352.8 L326.6 353.2 L326.9 353.5 L327.1 353.8 L327.5 354.1 L327.8 354.5 L328.3 354.8 L328.8 355.2 L329.3 355.5 L329.9 355.8 L330.5 356.2 L331.1 356.5 L331.7 356.9 L332.4 357.2 L333.0 357.6 L333.6 357.9 L334.2 358.3 L334.7 358.6 L335.2 358.9 L335.7 359.2 L336.1 359.6 L336.5 359.9 L336.8 360.2 L337.0 360.5 L337.2 360.8 L337.3 361.1 L337.3 361.4 L337.3 361.7 L337.2 362.0 L337.0 362.3 L336.8 362.5 L336.5 362.8 L336.2 363.1 L335.8 363.4 L335.4 363.6 L334.9 363.9 L334.5 364.1 L334.0 364.4 L333.4 364.7 L332.9 364.9 L332.4 365.2 L331.9 365.5 L331.4 365.7 L331.0 366.0 L330.5 366.3 L330.1 366.6 L329.8 366.8 L329.5 367.1 L329.3 367.4 L329.1 367.7 L329.0 368.0 L328.9 368.2 L329.0 368.5 L329.0 368.8 L329.2 369.1 L329.4 369.4 L329.7 369.7 L330.0 370.0 L330.4 370.3 L330.9 370.6 L331.3 370.9 L331.9 371.3 L332.4 371.6 L333.0 371.9 L333.6 372.2 L334.2 372.5 L334.9 372.8 L335.5 373.1 L336.1 373.4 L336.7 373.7 L337.3 374.0 L337.8 374.3 L338.3 374.6 L338.8 374.9 L339.2 375.2 L339.5 375.5 L339.8 375.7 L340.1 376.0 L340.3 376.3 L340.4 376.6 L340.5 376.9 L340.5 377.1 L340.4 377.4 L340.3 377.7 L340.1 378.0 L339.9 378.2 L339.7 378.5 L339.3 378.8 L339.0 379.0 L338.6 379.3 L338.2 379.6 L337.7 379.8 L337.3 380.1 L336.8 380.4 L336.4 380.6 L335.9 380.9 L335.5 381.2 L335.1 381.4 L334.7 381.7 L334.3 382.0 L334.0 382.2 L333.7 382.5 L333.5 382.8 L333.3 383.1 L333.2 383.3 L333.1 383.6 L333.1 383.9 L333.2 384.2 L333.3 384.4 L333.5 384.7 L333.7 385.0 L334.0 385.2 L334.3 385.5 L334.7 385.8 L335.1 386.1 L335.6 386.3 L336.1 386.6 L336.6 386.9 L337.2 387.1 L337.8 387.4 L338.4 387.7 L339.0 387.9 L339.6 388.2 L340.2 388.5 L340.8 388.7 L341.4 389.0 L342.0 389.2 L342.5 389.5 L343.0 389.8 L343.5 390.0 L343.9 390.3 L344.3 390.5 L344.6 390.8 L344.9 391.0 L345.1 391.3 L345.3 391.5 L345.4 391.8 L345.4 392.1 L345.4 392.3 L345.4 392.6 L345.3 392.8 L345.1 393.1 L344.9 393.3 L344.7 393.6 L344.4 393.9 L344.1 394.1 L343.8 394.4 L343.4 394.6 L343.0 394.9 L342.7 395.2 L342.3 395.4 L341.9 395.7 L341.5 395.9 L341.1 396.2 L340.8 396.5 L340.5 396.7 L340.2 397.0 L339.9 397.2 L339.7 397.5 L339.5 397.7 L339.3 398.0 L339.2 398.3 L339.2 398.5 L339.2 398.8 L339.2 399.0 L339.3 399.3 L339.5 399.5 L339.7 399.7 L340.0 400.0 L340.3 400.2 L340.6 400.5 L341.0 400.7 L341.5 400.9 L342.0 401.2 L342.5 401.4 L343.0 401.6 L343.6 401.9 L344.2 402.1 L344.8 402.3 L345.4 402.5 L346.0 402.7 L346.6 403.0 L347.2 403.2 L347.7 403.4 L348.3 403.6 L348.9 403.8 L349.4 404.1 L349.8 404.3 L350.3 404.5 L350.7 404.7 L351.1 404.9 L351.4 405.2 L351.7 405.4 L351.9 405.6 L352.1 405.8 L352.2 406.1 L352.3 406.3 L352.3 406.5 L352.3 406.8 L352.3 407.0 L352.2 407.2 L352.0 407.5 L351.9 407.7 L351.6 407.9 L351.4 408.2 L351.1 408.4 L350.9 408.7 L350.6 408.9 L350.2 409.2 L349.9 409.4 L349.6 409.6 L349.3 409.9 L349.0 410.1 L348.7 410.4 L348.4 410.6 L348.1 410.9 L347.9 411.1 L347.7 411.3 L347.5 411.6 L347.3 411.8 L347.2 412.0 L347.2 412.3 L347.2 412.5 L347.2 412.7 L347.3 412.9 L347.4 413.2 L347.6 413.4 L347.9 413.6 L348.1 413.8 L348.5 414.0 L348.8 414.2 L349.3 414.4 L349.7 414.6 L350.2 414.8 L350.7 415.0 L351.3 415.1 L351.8 415.3 L352.4 415.5 L353.0 415.7 L353.7 415.9 L354.3 416.0 L354.9 416.2 L355.5 416.4 L356.1 416.6 L356.7 416.7 L357.3 416.9 L357.8 417.1 L358.3 417.3 L358.8 417.4 L359.2 417.6 L359.6 417.8 L359.9 418.0 L360.2 418.2 L360.5 418.4 L360.7 418.6 L360.8 418.8 L360.9 419.0 L361.0 419.2 L361.0 419.4 L361.0 419.6 L360.9 419.8 L360.8 420.0 L360.6 420.2 L360.4 420.4 L360.2 420.6 L359.9 420.9 L359.6 421.1 L359.3 421.3 L359.0 421.5 L358.7 421.8 L358.4 422.0 L358.1 422.2 L357.8 422.4 L357.6 422.7 L357.3 422.9 L357.1 423.1 L356.9 423.3 L356.8 423.5 L356.7 423.7 L356.6 423.9 L356.6 424.1 L356.6 424.3 L356.7 424.5 L356.8 424.7 L357.0 424.9 L357.2 425.1 L357.5 425.2 L357.9 425.4 L358.3 425.6 L358.7 425.7 L359.2 425.9 L359.7 426.0 L360.3 426.1 L360.8 426.3 L361.5 426.4 L362.1 426.6 L362.7 426.7 L363.4 426.8 L364.0 426.9 L364.7 427.1 L365.3 427.2 L366.0 427.3 L366.6 427.5 L367.1 427.6 L367.7 427.7 L368.2 427.8 L368.7 428.0 L369.1 428.1 L369.5 428.3 L369.8 428.4 L370.1 428.6 L370.3 428.7 L370.5 428.9 L370.6 429.1 L370.6 429.2 L370.6 429.4 L370.6 429.6 L370.5 429.8 L370.4 430.0 L370.2 430.2 L370.0 430.4 L369.7 430.5 L369.5 430.7 L369.2 431.0 L368.9 431.2 L368.6 431.4 L368.3 431.6 L368.0 431.8 L367.7 432.0 L367.5 432.2 L367.3 432.4 L367.1 432.5 L366.9 432.7 L366.8 432.9 L366.7 433.1 L366.7 433.3 L366.7 433.4 L366.8 433.6 L367.0 433.7 L367.2 433.9 L367.4 434.0 L367.8 434.2 L368.1 434.3 L368.6 434.4 L369.0 434.5 L369.6 434.6 L370.1 434.7 L370.7 434.8 L371.4 434.9 L372.0 435.0 L372.7 435.1 L373.4 435.2 L374.1 435.2 L374.8 435.3 L375.5 435.4 L376.1 435.5 L376.8 435.6 L377.4 435.6 L378.0 435.7 L378.5 435.8 L379.0 435.9 L379.4 436.0 L379.8 436.1 L380.1 436.2 L380.3 436.4 L380.5 436.5 L380.6 436.6 L380.7 436.8 L380.7 436.9 L380.7 437.1 L380.6 437.2 L380.4 437.4 L380.2 437.6 L380.0 437.7 L379.7 437.9 L379.5 438.1 L379.2 438.3 L378.9 438.5 L378.6 438.6 L378.3 438.8 L378.0 439.0 L377.7 439.2 L377.5 439.3 L377.3 439.5 L377.2 439.7 L377.1 439.8 L377.1 440.0 L377.1 440.1 L377.2 440.2 L377.3 440.3 L377.5 440.5 L377.8 440.6 L378.2 440.7 L378.6 440.7 L379.1 440.8 L379.7 440.9 L380.3 440.9 L380.9 441.0 L381.6 441.0 L382.2 441.1 L382.9 441.1 L383.7 441.1 L384.4 441.2 L385.1 441.2 L385.7 441.3 L386.4 441.3 L387.0 441.3 L387.6 441.4 L388.1 441.5 L388.6 441.5 L389.0 441.6 L389.4 441.7 L389.7 441.7 L389.9 441.8 L390.1 441.9 L390.2 442.0 L390.2 442.1 L390.2 442.3 L390.2 442.4 L390.1 442.5 L390.0 442.7 L389.8 442.8 L389.6 443.0 L389.4 443.1 L389.2 443.2 L388.9 443.4 L388.7 443.5 L388.5 443.7 L388.4 443.8 L388.2 444.0 L388.1 444.1 L388.1 444.2 L388.0 444.3 L388.1 444.4 L388.2 444.5 L388.4 444.6 L388.6 444.7 L388.8 444.8 L389.2 444.8 L389.6 444.9 L390.0 444.9 L390.5 445.0 L391.0 445.0 L391.6 445.0 L392.1 445.0 L392.7 445.1 L393.3 445.1 L393.9 445.1 L394.5 445.1 L395.1 445.1 L395.7 445.1 L396.2 445.2 L396.7 445.2 L397.2 445.2 L397.6 445.3 L398.0 445.3 L398.3 445.4 L398.5 445.4 L398.7 445.5 L398.9 445.5 L399.0 445.6 L399.1 445.7 L399.1 445.8 L399.1 445.9 L399.0 446.0 L398.9 446.1 L398.9 446.2 L398.8 446.3 L398.7 446.4 L398.6 446.5 L398.5 446.6 L398.4 446.7 L398.4 446.8 L398.4 446.9 L398.5 447.0 L398.6 447.1 L398.7 447.1 L398.9 447.2 L399.1 447.2 L399.4 447.3 L399.7 447.3 L400.0 447.3 L400.4 447.3 L400.9 447.4 L401.3 447.4 L401.8 447.4 L402.3 447.4 L402.8 447.4 L403.3 447.4 L403.8 447.4 L404.3 447.4 L404.7 447.4 L405.2 447.4 L405.6 447.4 L405.9 447.4 L406.3 447.4 L406.6 447.5 L406.8 447.5 L407.0 447.5 L407.2 447.6 L407.3 447.6 L407.4 447.7 L407.5 447.7 L407.6 447.8 L407.6 447.8 L407.6 447.9 L407.7 448.0 L407.7 448.0 L407.7 448.1 L407.8 448.1 L407.9 448.2 L407.9 448.2 L408.1 448.3 L408.2 448.3 L408.4 448.4 L408.6 448.4 L408.9 448.4 L409.2 448.4 L409.5 448.4 L409.8 448.4 L410.2 448.4 L410.5 448.4 L410.9 448.4 L411.3 448.4 L411.7 448.4 L412.1 448.4 L412.4 448.4 L412.8 448.4 L413.1 448.4 L413.5 448.4 L413.8 448.3 L414.0 448.4 L414.3 448.4 L414.5 448.4 L414.8 448.4 L415.0 448.4 L415.2 448.4 L415.3 448.4 L415.5 448.4 L415.7 448.5 L415.8 448.5 L416.0 448.5 L416.1 448.5 L416.3 448.5 L416.5 448.5 L416.7 448.5 L416.9 448.5 L417.1 448.6 L417.3 448.6 L417.5 448.6 L417.8 448.5 L418.0 448.5 L418.3 448.5 L418.6 448.5 L418.9 448.5 L419.1 448.5 L419.4 448.5 L419.7 448.5 L419.9 448.4 L420.2 448.4 L420.5 448.4 L420.7 448.4 L420.9 448.4" fill="none" stroke="#111" stroke-width="2.2" />
<path d="M530.5 193.4 L526.3 190.1 L522.0 187.1 L517.5 184.4 L512.9 182.1 L508.1 180.2 L503.2 178.6 L498.2 177.4 L493.0 176.6 L487.8 176.1 L482.5 176.0 L477.1 176.3 L471.7 177.0 L466.2 178.1 L460.8 179.5 L455.3 181.3 L449.8 183.4 L444.4 185.9 L439.0 188.8 L433.7 192.0 L428.5 195.5 L423.3 199.4 L418.2 203.6 L413.3 208.1 L408.5 212.8 L403.8 217.9" fill="none" stroke="#111" stroke-width="1.5" />
<path d="M391.0 234.2 L387.1 240.1 L383.3 246.3 L379.7 252.6 L376.4 259.2 L373.3 265.8 L370.4 272.6 L367.8 279.5 L365.5 286.5 L363.4 293.5 L361.5 300.6 L360.0 307.8 L358.7 314.9 L357.7 322.1 L357.0 329.2 L356.6 336.2 L356.5 343.2 L356.6 350.1 L357.0 357.0 L357.8 363.6 L358.8 370.2 L360.1 376.5 L361.6 382.7 L363.5 388.7 L365.6 394.5 L367.9 400.1 L370.6 405.4 L373.4 410.5 L376.5 415.2 L379.9 419.7 L383.4 423.9 L387.2 427.8 L391.2 431.4 L395.4 434.6 L399.7 437.5 L404.2 440.1 L408.9 442.3 L413.7 444.1 L418.7 445.6 L423.7 446.7 L428.9 447.4 L434.1 447.7 L439.5 447.7 L444.8 447.3 L450.3 446.5 L455.7 445.4 L461.2 443.9 L466.6 442.0 L472.1 439.8 L477.5 437.2 L482.8 434.2 L488.1 430.9 L493.3 427.3 L498.5 423.4 L503.5 419.1 L508.4 414.6" fill="none" stroke="#111" stroke-width="1.5" />
<path d="M503.5 171.5 C504.1 171.7 504.5 171.1 506.8 172.7 C509.1 174.3 513.3 177.7 517.4 181.3 C521.5 184.9 526.8 189.1 531.5 194.5 C536.2 199.9 541.4 206.6 545.5 213.9 C549.6 221.2 553.5 230.7 556.1 238.5 C558.8 246.3 560.5 256.8 561.4 260.5" fill="none" stroke="#111" stroke-width="1.6" />
<path d="M349.2 245.5 C347.4 245.5 341.7 244.3 338.2 245.5 C334.7 246.7 330.8 249.1 328.1 252.6 C325.4 256.1 322.9 261.9 322.1 266.6 C321.3 271.3 321.8 276.7 323.1 280.7 C324.5 284.7 329.0 289.1 330.2 290.8" fill="none" stroke="#111" stroke-width="1.5" />
<path d="M489.0 233.0 L552.0 259.5" fill="none" stroke="#111" stroke-width="1.55" />
<path d="M431.8 247.4 C433.3 245.8 437.5 240.4 441.0 238.0 C444.5 235.6 449.2 234.4 452.9 233.1 C456.6 231.8 459.5 230.6 463.0 230.0 C466.5 229.4 469.6 228.8 474.0 229.3 C478.4 229.8 485.3 231.7 489.1 233.1 C492.9 234.5 495.4 236.8 496.6 237.6" fill="none" stroke="#111" stroke-width="1.55" />
<path d="M424.2 266.3 C425.7 264.2 429.5 257.5 433.0 254.0 C436.5 250.5 441.5 247.7 445.3 245.2 C449.1 242.7 452.0 240.8 456.0 239.0 C460.0 237.2 465.5 235.6 469.5 234.6 C473.5 233.6 476.8 233.2 480.0 233.2 C483.2 233.2 487.5 234.4 489.0 234.6" fill="none" stroke="#111" stroke-width="1.55" />
<path d="M419.7 273.0 C419.1 272.4 417.7 268.1 415.9 269.3 C414.1 270.5 410.9 276.5 409.0 280.0 C407.1 283.5 406.1 286.9 404.6 290.4 C403.1 293.9 401.1 297.2 400.0 301.0 C398.9 304.8 398.5 308.1 397.8 313.0 C397.1 317.9 395.5 324.4 395.6 330.6 C395.7 336.8 396.6 343.7 398.6 350.2 C400.6 356.7 403.6 363.8 407.6 369.8 C411.6 375.8 418.2 382.6 422.7 386.4 C427.2 390.2 432.8 391.4 434.8 392.4" fill="none" stroke="#111" stroke-width="1.55" />
<path d="M414.4 283.6 C413.3 285.8 409.9 292.1 408.0 297.0 C406.1 301.9 404.2 308.0 403.1 313.0 C402.0 318.0 401.7 322.1 401.6 327.0 C401.5 331.9 400.8 336.0 402.3 342.6 C403.8 349.2 407.0 359.8 410.6 366.8 C414.2 373.9 419.7 380.8 424.2 384.9 C428.7 389.0 432.8 389.9 437.8 391.6 C442.8 393.4 451.6 394.8 454.4 395.4" fill="none" stroke="#111" stroke-width="1.55" />
<path d="M434.8 392.4 L475.5 403.0 L508.7 414.3" fill="none" stroke="#111" stroke-width="1.55" />
<path d="M505.7 242.9 C503.8 243.6 497.8 245.4 494.0 247.0 C490.2 248.6 487.3 250.0 483.0 252.7 C478.7 255.4 472.6 259.3 468.0 263.3 C463.4 267.3 457.2 274.6 455.1 276.8" fill="none" stroke="#111" stroke-width="1.55" />
<path d="M449.9 285.9 C448.4 289.2 443.2 298.6 440.8 305.5 C438.4 312.4 436.4 320.4 435.3 327.0 C434.2 333.6 433.8 338.6 434.2 345.0 C434.6 351.4 435.9 358.8 437.8 365.2 C439.7 371.6 442.3 378.0 445.3 383.3 C448.3 388.6 454.1 394.6 455.9 396.9" fill="none" stroke="#111" stroke-width="1.55" />
<path d="M528.3 251.2 C525.8 251.8 518.0 253.1 513.2 255.0 C508.4 256.9 501.9 261.2 499.6 262.5" fill="none" stroke="#111" stroke-width="1.55" />
<path d="M466.4 306.3 C465.3 308.9 461.5 317.2 460.0 322.0 C458.5 326.8 458.0 330.3 457.4 335.0 C456.8 339.7 455.9 343.6 456.6 350.2 C457.4 356.8 459.5 367.3 461.9 374.3 C464.3 381.3 467.7 387.4 471.0 392.4 C474.3 397.4 479.8 402.5 481.5 404.5" fill="none" stroke="#111" stroke-width="1.55" />
<path d="M499.2 284.3 L501.8 281.4 L504.5 278.6 L507.4 276.0 L510.2 273.6 L513.2 271.3 L516.2 269.2 L519.2 267.3 L522.3 265.7 L525.5 264.2 L528.6 262.9 L531.8 261.8 L534.9 260.9 L538.1 260.3 L541.2 259.9 L544.3 259.6 L547.4 259.6 L550.5 259.8 L553.5 260.3 L556.4 260.9 L559.3 261.7 L562.1 262.8 L564.9 264.1 L567.5 265.6 L570.1 267.2 L572.5 269.1 L574.9 271.2 L577.1 273.4 L579.2 275.8 L581.2 278.4 L583.1 281.2 L584.8 284.1 L586.4 287.1 L587.8 290.3 L589.1 293.7 L590.2 297.1 L591.2 300.7 L592.0 304.4 L592.6 308.1 L593.1 312.0 L593.4 315.9 L593.6 319.9 L593.6 323.9 L593.4 328.0 L593.1 332.1 L592.5 336.2 L591.9 340.3 L591.0 344.4 L590.1 348.5 L588.9 352.6 L587.6 356.6 L586.2 360.6 L584.6 364.5 L582.8 368.4 L581.0 372.1 L579.0 375.8 L576.8 379.3 L574.6 382.8 L572.2 386.1 L569.7 389.3 L567.2 392.3 L564.5 395.2 L561.8 398.0 L558.9 400.6 L556.0 403.0 L553.1 405.2 L550.1 407.2 L547.0 409.1 L543.9 410.7 L540.8 412.2 L537.6 413.4 L534.5 414.5 L531.3 415.3 L528.2 415.9 L525.0 416.3 L521.9 416.5 L518.8 416.5 L515.8 416.2 L512.8 415.7 L509.8 415.1 L507.0 414.2 L504.2 413.1 L501.4 411.8 L498.8 410.3 L496.3 408.6 L493.8 406.7 L491.5 404.6 L489.3 402.3 L487.2 399.8 L485.2 397.2 L483.4 394.4 L481.7 391.5 L480.2 388.4 L478.8 385.2 L477.5 381.8 L476.4 378.3 L475.5 374.8 L474.7 371.1 L474.1 367.3 L473.6 363.4 L473.3 359.5 L473.2 355.5 L473.2 351.5 L473.5 347.4 L473.8 343.3 L474.4 339.2 L475.1 335.0 L475.9 330.9 L476.9 326.8 L478.1 322.8 L479.4 318.8 L480.9 314.8 L482.5 310.9 L484.3 307.1" fill="none" stroke="#111" stroke-width="1.6" />
<path d="M539.7 266.9 L540.0 267.0 L540.3 267.1 L540.6 267.3 L540.9 267.5 L541.2 267.7 L541.4 267.9 L541.7 268.2 L541.9 268.4 L542.2 268.7 L542.4 269.0 L542.6 269.3 L542.8 269.7 L542.9 270.0 L543.1 270.4 L543.2 270.8 L543.3 271.2 L543.4 271.6 L543.5 272.0 L543.6 272.5 L543.6 272.9 L543.7 273.4 L543.7 273.8 L543.7 274.3 L543.7 274.8 L543.6 275.2 L543.5 275.7 L543.5 276.2 L543.4 276.6 L543.3 277.1 L543.1 277.6 L543.0 278.0 L542.8 278.5 L542.6 278.9 L542.4 279.4 L542.2 279.8 L542.0 280.2 L541.7 280.6 L541.5 281.0 L541.2 281.4 L541.0 281.7 L540.7 282.1 L540.4 282.4 L540.1 282.7 L539.7 283.0 L539.4 283.2 L539.1 283.5 L538.8 283.7 L538.4 283.9 L538.1 284.1 L537.7 284.3 L537.4 284.4 L537.0 284.5 L536.7 284.6 L536.3 284.6 L536.0 284.7 L535.6 284.7 L535.3 284.7 L535.0 284.6 L534.6 284.6 L534.3 284.5 L534.0 284.4 L533.7 284.3 L533.4 284.1 L533.1 283.9 L532.8 283.7 L532.6 283.5 L532.3 283.2 L532.1 283.0 L531.8 282.7 L531.6 282.4 L531.4 282.1 L531.2 281.7 L531.1 281.4 L530.9 281.0 L530.8 280.6 L530.7 280.2 L530.6 279.8 L530.5 279.4 L530.4 278.9 L530.4 278.5 L530.3 278.0 L530.3 277.6 L530.3 277.1 L530.3 276.6 L530.4 276.2 L530.5 275.7 L530.5 275.2 L530.6 274.8 L530.7 274.3 L530.9 273.8 L531.0 273.4 L531.2 272.9 L531.4 272.5 L531.6 272.0 L531.8 271.6 L532.0 271.2 L532.3 270.8 L532.5 270.4 L532.8 270.0 L533.0 269.7 L533.3 269.3 L533.6 269.0 L533.9 268.7 L534.3 268.4 L534.6 268.2 L534.9 267.9 L535.2 267.7 L535.6 267.5 L535.9 267.3 L536.3 267.1 L536.6 267.0 L537.0 266.9 L537.3 266.8 L537.7 266.8 L538.0 266.7 L538.4 266.7 L538.7 266.7 L539.0 266.8 L539.4 266.8 L539.7 266.9Z" fill="none" stroke="#111" stroke-width="1.6" />
<path d="M572.1 287.8 L571.9 288.0 L571.7 288.2 L571.4 288.3 L571.2 288.5 L571.0 288.6 L570.7 288.8 L570.5 288.9 L570.2 289.0 L569.9 289.1 L569.7 289.2 L569.4 289.2 L569.2 289.3 L568.9 289.3 L568.6 289.3 L568.4 289.3 L568.1 289.3 L567.9 289.2 L567.6 289.1 L567.4 289.1 L567.2 289.0 L566.9 288.9 L566.7 288.7 L566.5 288.6 L566.3 288.4 L566.1 288.3 L565.9 288.1 L565.7 287.9 L565.6 287.7 L565.4 287.4 L565.3 287.2 L565.1 287.0 L565.0 286.7 L564.9 286.4 L564.8 286.1 L564.7 285.9 L564.6 285.6 L564.6 285.3 L564.5 285.0 L564.5 284.7 L564.5 284.3 L564.5 284.0 L564.5 283.7 L564.5 283.4 L564.5 283.1 L564.6 282.7 L564.6 282.4 L564.7 282.1 L564.8 281.8 L564.9 281.5 L565.0 281.2 L565.2 280.9 L565.3 280.6 L565.4 280.3 L565.6 280.0 L565.8 279.7 L566.0 279.5 L566.1 279.2 L566.3 279.0 L566.6 278.8 L566.8 278.6 L567.0 278.4 L567.2 278.2 L567.5 278.0 L567.7 277.8 L568.0 277.7 L568.2 277.6 L568.5 277.4 L568.7 277.3 L569.0 277.3 L569.2 277.2 L569.5 277.2 L569.8 277.1 L570.0 277.1 L570.3 277.1 L570.5 277.1 L570.8 277.2 L571.0 277.2 L571.3 277.3 L571.5 277.4 L571.7 277.5 L572.0 277.6 L572.2 277.7 L572.4 277.9 L572.6 278.0 L572.8 278.2 L573.0 278.4 L573.2 278.6 L573.3 278.8 L573.5 279.1 L573.6 279.3 L573.7 279.6" fill="none" stroke="#111" stroke-width="1.6" />
<path d="M588.5 327.5 L588.1 327.8 L587.8 328.1 L587.4 328.4 L587.1 328.6 L586.7 328.9 L586.3 329.1 L585.9 329.3 L585.5 329.4 L585.2 329.5 L584.8 329.6 L584.4 329.7 L584.0 329.8 L583.6 329.8 L583.2 329.8 L582.9 329.7 L582.5 329.7 L582.2 329.6 L581.8 329.5 L581.5 329.3 L581.1 329.2 L580.8 329.0 L580.5 328.7 L580.2 328.5 L579.9 328.2 L579.6 328.0 L579.4 327.6 L579.2 327.3 L578.9 327.0 L578.7 326.6 L578.5 326.2 L578.4 325.8 L578.2 325.4 L578.1 324.9 L578.0 324.5 L577.9 324.0 L577.8 323.5 L577.7 323.0 L577.7 322.6 L577.7 322.0 L577.7 321.5 L577.7 321.0 L577.8 320.5 L577.8 320.0 L577.9 319.5 L578.0 319.0 L578.2 318.5 L578.3 318.0 L578.5 317.5 L578.7 317.0 L578.8 316.5 L579.1 316.0 L579.3 315.5 L579.5 315.1 L579.8 314.6 L580.1 314.2 L580.4 313.8 L580.7 313.4 L581.0 313.0 L581.3 312.7 L581.7 312.4 L582.0 312.1 L582.4 311.8 L582.7 311.5 L583.1 311.3 L583.5 311.0 L583.9 310.8 L584.2 310.7 L584.6 310.5 L585.0 310.4 L585.4 310.3 L585.8 310.3 L586.2 310.2 L586.5 310.2 L586.9 310.2 L587.3 310.3 L587.6 310.4 L588.0 310.5 L588.3 310.6 L588.7 310.7 L589.0 310.9 L589.3 311.1 L589.6 311.3 L589.9 311.6 L590.2 311.9 L590.5 312.2 L590.7 312.5 L590.9 312.8 L591.2 313.2 L591.4 313.6 L591.5 314.0 L591.7 314.4 L591.8 314.8 L592.0 315.3 L592.1 315.7 L592.2 316.2" fill="none" stroke="#111" stroke-width="1.7" />
<path d="M489.0 366.5 L488.6 366.8 L488.3 367.1 L487.9 367.4 L487.6 367.6 L487.2 367.9 L486.8 368.1 L486.4 368.3 L486.0 368.4 L485.7 368.5 L485.3 368.6 L484.9 368.7 L484.5 368.8 L484.1 368.8 L483.7 368.8 L483.4 368.7 L483.0 368.7 L482.7 368.6 L482.3 368.5 L482.0 368.3 L481.6 368.2 L481.3 368.0 L481.0 367.7 L480.7 367.5 L480.4 367.2 L480.1 367.0 L479.9 366.6 L479.7 366.3 L479.4 366.0 L479.2 365.6 L479.0 365.2 L478.9 364.8 L478.7 364.4 L478.6 363.9 L478.5 363.5 L478.4 363.0 L478.3 362.5 L478.2 362.0 L478.2 361.6 L478.2 361.0 L478.2 360.5 L478.2 360.0 L478.3 359.5 L478.3 359.0 L478.4 358.5 L478.5 358.0 L478.7 357.5 L478.8 357.0 L479.0 356.5 L479.2 356.0 L479.3 355.5 L479.6 355.0 L479.8 354.5 L480.0 354.1 L480.3 353.6 L480.6 353.2 L480.9 352.8 L481.2 352.4 L481.5 352.0 L481.8 351.7 L482.2 351.4 L482.5 351.1 L482.9 350.8 L483.2 350.5 L483.6 350.3 L484.0 350.0 L484.4 349.8 L484.7 349.7 L485.1 349.5 L485.5 349.4 L485.9 349.3 L486.3 349.3 L486.7 349.2 L487.0 349.2 L487.4 349.2 L487.8 349.3 L488.1 349.4 L488.5 349.5 L488.8 349.6 L489.2 349.7 L489.5 349.9 L489.8 350.1 L490.1 350.3 L490.4 350.6 L490.7 350.9 L491.0 351.2 L491.2 351.5 L491.4 351.8 L491.7 352.2 L491.9 352.6 L492.0 353.0 L492.2 353.4 L492.3 353.8 L492.5 354.3 L492.6 354.7 L492.7 355.2" fill="none" stroke="#111" stroke-width="1.7" />
<path d="M508.2 402.1 L508.0 402.3 L507.8 402.5 L507.5 402.6 L507.3 402.8 L507.1 402.9 L506.8 403.1 L506.6 403.2 L506.3 403.3 L506.0 403.4 L505.8 403.5 L505.5 403.5 L505.3 403.6 L505.0 403.6 L504.7 403.6 L504.5 403.6 L504.2 403.6 L504.0 403.5 L503.7 403.4 L503.5 403.4 L503.3 403.3 L503.0 403.2 L502.8 403.0 L502.6 402.9 L502.4 402.7 L502.2 402.6 L502.0 402.4 L501.8 402.2 L501.7 402.0 L501.5 401.7 L501.4 401.5 L501.2 401.3 L501.1 401.0 L501.0 400.7 L500.9 400.4 L500.8 400.2 L500.7 399.9 L500.7 399.6 L500.6 399.3 L500.6 399.0 L500.6 398.6 L500.6 398.3 L500.6 398.0 L500.6 397.7 L500.6 397.4 L500.7 397.0 L500.7 396.7 L500.8 396.4 L500.9 396.1 L501.0 395.8 L501.1 395.5 L501.3 395.2 L501.4 394.9 L501.5 394.6 L501.7 394.3 L501.9 394.0 L502.1 393.8 L502.2 393.5 L502.4 393.3 L502.7 393.1 L502.9 392.9 L503.1 392.7 L503.3 392.5 L503.6 392.3 L503.8 392.1 L504.1 392.0 L504.3 391.9 L504.6 391.7 L504.8 391.6 L505.1 391.6 L505.3 391.5 L505.6 391.5 L505.9 391.4 L506.1 391.4 L506.4 391.4 L506.6 391.4 L506.9 391.5 L507.1 391.5 L507.4 391.6 L507.6 391.7 L507.8 391.8 L508.1 391.9 L508.3 392.0 L508.5 392.2 L508.7 392.3 L508.9 392.5 L509.1 392.7 L509.3 392.9 L509.4 393.1 L509.6 393.4 L509.7 393.6 L509.8 393.9" fill="none" stroke="#111" stroke-width="1.6" />
<path d="M541.4 390.0 L541.8 390.2 L542.1 390.3 L542.4 390.5 L542.7 390.6 L543.0 390.9 L543.2 391.1 L543.5 391.4 L543.7 391.6 L544.0 392.0 L544.2 392.3 L544.4 392.6 L544.6 393.0 L544.7 393.4 L544.9 393.8 L545.0 394.2 L545.1 394.6 L545.2 395.1 L545.3 395.5 L545.4 396.0 L545.4 396.5 L545.5 397.0 L545.5 397.5 L545.4 398.0 L545.4 398.5 L545.4 399.0 L545.3 399.5 L545.2 400.0 L545.1 400.5 L545.0 401.0 L544.8 401.5 L544.6 402.0 L544.5 402.5 L544.3 403.0 L544.1 403.5 L543.8 403.9 L543.6 404.4 L543.3 404.8 L543.1 405.3 L542.8 405.7 L542.5 406.1 L542.2 406.4 L541.9 406.8 L541.6 407.1 L541.2 407.4 L540.9 407.7 L540.6 408.0 L540.2 408.2 L539.8 408.5 L539.5 408.7 L539.1 408.8 L538.8 409.0 L538.4 409.1 L538.0 409.2 L537.7 409.3 L537.3 409.3 L537.0 409.4 L536.6 409.3 L536.3 409.3 L535.9 409.3 L535.6 409.2 L535.2 409.0 L534.9 408.9 L534.6 408.7 L534.3 408.6 L534.0 408.3 L533.8 408.1 L533.5 407.8 L533.3 407.6 L533.0 407.2 L532.8 406.9 L532.6 406.6 L532.4 406.2 L532.3 405.8 L532.1 405.4 L532.0 405.0 L531.9 404.6 L531.8 404.1 L531.7 403.7 L531.6 403.2 L531.6 402.7 L531.5 402.2 L531.5 401.7 L531.6 401.2 L531.6 400.7 L531.6 400.2 L531.7 399.7 L531.8 399.2 L531.9 398.7 L532.0 398.2 L532.2 397.7 L532.4 397.2 L532.5 396.7 L532.7 396.2 L532.9 395.7 L533.2 395.3 L533.4 394.8 L533.7 394.4 L533.9 393.9 L534.2 393.5 L534.5 393.1 L534.8 392.8 L535.1 392.4 L535.4 392.1 L535.8 391.8 L536.1 391.5 L536.4 391.2 L536.8 391.0 L537.2 390.7 L537.5 390.5 L537.9 390.4 L538.2 390.2 L538.6 390.1 L539.0 390.0 L539.3 389.9 L539.7 389.9 L540.0 389.8 L540.4 389.9 L540.7 389.9 L541.1 389.9 L541.4 390.0Z" fill="none" stroke="#111" stroke-width="1.6" />
<path d="M539.2 408.1 L539.0 408.1 L538.8 408.1 L538.5 408.1 L538.3 408.0 L538.1 407.9 L537.9 407.8 L537.7 407.7 L537.5 407.6 L537.3 407.4 L537.1 407.3 L536.9 407.1 L536.7 406.9 L536.6 406.7 L536.4 406.4 L536.3 406.2 L536.1 405.9 L536.0 405.6 L535.9 405.3 L535.8 405.0 L535.7 404.7 L535.6 404.4 L535.6 404.0 L535.5 403.7 L535.5 403.3 L535.4 403.0 L535.4 402.6 L535.4 402.2 L535.4 401.8 L535.5 401.5 L535.5 401.1 L535.6 400.7 L535.6 400.3 L535.7 399.9 L535.8 399.6 L535.9 399.2 L536.0 398.8 L536.1 398.4 L536.2 398.1 L536.4 397.7 L536.5 397.4 L536.7 397.0 L536.9 396.7 L537.0 396.4 L537.2 396.1 L537.4 395.8 L537.6 395.5 L537.8 395.3 L538.0 395.0 L538.3 394.8 L538.5 394.6 L538.7 394.4 L538.9 394.2 L539.2 394.1" fill="none" stroke="#111" stroke-width="1.2" />
<path d="M517.4 302.0 C518.1 301.3 520.0 299.2 521.5 298.0 C523.0 296.8 524.6 295.8 526.4 294.8 C528.1 293.8 530.1 292.9 532.0 292.2 C533.9 291.4 535.6 290.7 537.8 290.3 C540.0 289.9 542.5 289.4 545.0 289.6 C547.5 289.8 551.3 291.0 552.6 291.3" fill="none" stroke="#111" stroke-width="1.6" />
<path d="M541.0 290.3 C542.0 290.4 545.2 290.4 547.0 290.6 C548.8 290.9 551.2 291.6 552.0 291.8" fill="none" stroke="#111" stroke-width="2.4" />
<path d="M552.6 291.3 C553.1 290.8 554.4 288.8 555.6 288.4 C556.9 288.0 558.3 288.3 560.1 289.0 C561.9 289.7 564.7 291.4 566.2 292.8 C567.7 294.2 568.6 295.9 569.2 297.3 C569.8 298.7 569.8 300.5 569.9 301.1" fill="none" stroke="#111" stroke-width="1.6" />
<path d="M554.1 293.4 L567.7 298.1" fill="none" stroke="#111" stroke-width="1.3" />
<path d="M542.1 299.6 C543.0 299.7 545.5 299.9 547.3 300.3 C549.0 300.7 551.1 302.0 552.6 302.2 C554.1 302.4 555.1 301.7 556.4 301.5 C557.6 301.3 558.6 300.9 560.1 301.1 C561.6 301.3 564.5 302.4 565.4 302.6" fill="none" stroke="#111" stroke-width="1.4" />
<path d="M543.6 293.6 C543.5 294.6 542.4 297.1 542.8 299.6 C543.2 302.1 545.2 305.6 546.2 308.6 C547.2 311.6 548.2 314.7 548.8 317.7 C549.4 320.7 549.6 323.8 549.6 326.7 C549.6 329.6 549.0 332.9 548.6 335.0 C548.2 337.1 547.1 337.8 547.3 339.5 C547.5 341.2 549.1 343.7 549.6 345.1 C550.1 346.5 550.7 346.2 550.3 348.1 C549.9 350.0 548.2 354.3 547.3 356.4 C546.4 358.5 545.5 360.1 545.1 360.9" fill="none" stroke="#111" stroke-width="1.6" />
<path d="M569.4 299.6 C569.7 301.4 570.8 306.8 571.4 310.1 C572.0 313.4 572.9 316.1 573.3 319.2 C573.7 322.3 573.8 326.4 573.7 329.0 C573.7 331.6 573.4 333.3 573.0 335.0 C572.6 336.7 571.7 337.2 571.4 339.0 C571.1 340.8 571.1 344.4 571.0 345.5" fill="none" stroke="#111" stroke-width="1.6" />
<path d="M547.3 339.8 C548.2 339.9 550.5 339.6 552.6 340.2 C554.7 340.8 557.6 342.5 560.1 343.6 C562.6 344.7 565.2 345.4 567.7 346.6 C570.2 347.9 572.8 349.8 575.2 351.1 C577.6 352.4 580.9 353.8 582.0 354.4" fill="none" stroke="#111" stroke-width="1.6" />
<path d="M549.6 346.2 C551.4 346.8 556.5 348.8 560.1 350.0 C563.7 351.2 567.8 352.5 571.4 353.4 C575.0 354.3 580.2 355.2 582.0 355.6" fill="none" stroke="#111" stroke-width="1.3" />
<path d="M536.8 360.1 C538.2 360.3 543.1 360.4 545.1 361.3 C547.1 362.2 546.7 364.1 548.8 365.4 C550.9 366.7 555.6 368.1 557.9 369.2 C560.2 370.3 560.8 370.7 562.4 372.2 C564.0 373.7 566.3 377.1 567.7 378.2 C569.1 379.3 570.2 378.9 570.7 379.0" fill="none" stroke="#111" stroke-width="1.6" />
<path d="M570.7 379.0 L574.5 373.7 L579.0 363.9 L582.0 355.6" fill="none" stroke="#111" stroke-width="1.6" />
<path d="M557.9 369.9 L549.6 378.2" fill="none" stroke="#111" stroke-width="1.6" />
<path d="M530.0 385.8 C531.0 385.7 534.1 385.4 536.0 385.0 C537.9 384.6 540.4 383.8 541.3 383.5" fill="none" stroke="#111" stroke-width="1.2" />
<path d="M518.9 302.0 C520.0 302.9 524.1 305.2 525.7 307.6 C527.3 310.1 527.9 313.4 528.3 316.7 C528.7 320.0 528.7 323.7 528.0 327.2 C527.3 330.7 525.5 334.8 524.2 337.8 C522.9 340.8 521.7 343.0 520.4 345.0 C519.1 347.0 518.3 348.0 516.4 349.8 C514.5 351.6 511.6 354.3 508.8 355.8 C506.0 357.3 501.3 358.3 499.8 358.8" fill="none" stroke="#111" stroke-width="1.8" />
<path d="M524.2 305.3 C525.2 306.3 528.7 308.9 530.2 311.4 C531.7 313.9 532.8 317.3 533.2 320.4 C533.7 323.5 533.0 328.6 532.9 330.2" fill="none" stroke="#111" stroke-width="1.2" />
<path d="M532.9 330.2 L530.2 340.8" fill="none" stroke="#888" stroke-width="1.2" />
<path d="M501.0 359.6 C502.9 359.5 509.6 359.4 512.6 358.8 C515.6 358.2 517.2 357.1 519.0 356.0 C520.8 354.9 522.5 352.8 523.2 352.1" fill="none" stroke="#111" stroke-width="1.2" />
<path d="M489.5 315.1 C490.4 313.6 493.2 309.0 495.0 306.0 C496.8 303.0 498.5 299.1 500.1 297.1 C501.7 295.1 503.3 294.4 504.6 294.2 C505.9 294.0 506.9 295.1 508.0 296.0 C509.1 296.9 510.2 298.2 511.4 299.3 C512.6 300.4 513.9 302.1 515.1 302.5 C516.4 302.9 518.3 302.1 518.9 302.0" fill="none" stroke="#111" stroke-width="1.6" />
<path d="M493.3 316.7 L502.3 300.1 L507.6 302.3" fill="none" stroke="#111" stroke-width="1.2" />
<path d="M499.3 298.6 L510.6 301.4" fill="none" stroke="#111" stroke-width="1.2" />
<path d="M489.5 315.1 C490.0 315.7 491.1 317.9 492.5 318.9 C493.9 319.9 496.3 320.3 497.8 321.2 C499.3 322.1 500.8 323.2 501.6 324.2 C502.4 325.2 502.9 324.9 502.7 327.2 C502.4 329.5 500.9 334.8 500.1 337.8 C499.3 340.8 498.2 343.0 497.8 345.0 C497.4 347.0 497.4 348.3 497.5 350.0 C497.6 351.7 497.9 353.6 498.3 355.1 C498.7 356.6 499.6 358.2 499.8 358.8" fill="none" stroke="#111" stroke-width="1.6" />
<path d="M499.8 358.8 C500.1 360.1 500.4 363.6 501.3 366.4 C502.2 369.2 503.9 372.8 505.1 375.4 C506.4 378.0 507.2 379.9 508.8 382.2 C510.4 384.5 513.0 387.5 514.9 389.0 C516.8 390.5 518.9 390.9 520.1 391.2 C521.4 391.4 522.0 390.6 522.4 390.5" fill="none" stroke="#111" stroke-width="1.6" />
<path d="M522.4 390.5 L523.9 386.7" fill="none" stroke="#111" stroke-width="1.6" />
<path d="M523.9 386.7 C525.1 386.6 528.5 386.6 531.4 386.0 C534.3 385.4 539.6 383.8 541.2 383.3" fill="none" stroke="#111" stroke-width="1.6" />
<path d="M505.1 380.7 L514.5 389.5" fill="none" stroke="#111" stroke-width="1.2" />
<path d="M507.3 378.4 L516.4 386.7" fill="none" stroke="#111" stroke-width="1.2" />
<path d="M511.9 376.9 C512.3 376.5 512.1 375.4 514.1 374.3 C516.1 373.2 520.9 371.7 523.9 370.1 C526.9 368.5 530.8 365.4 532.2 364.5" fill="none" stroke="#111" stroke-width="1.6" />
<path d="M636.6 474.8 L633.7 472.3 L630.8 469.7 L628.2 466.7 L625.6 463.6 L623.3 460.3 L621.0 456.8 L619.0 453.0 L617.2 449.1 L615.5 445.0 L634.9 452.9 L636.7 457.1 L638.7 461.0 L640.9 464.8 L643.2 468.4 L645.8 471.7 L648.5 474.8 L651.3 477.7 L654.3 480.3 L657.5 482.7 L660.8 484.8Z" fill="#111" stroke="#111" stroke-width="1.0" />
<path d="M653.2 483.2 L649.7 482.0 L646.2 480.6 L642.9 478.9 L639.7 476.9 L636.5 474.7 L633.6 472.2 L630.7 469.5 L628.0 466.6 L625.5 463.5 L623.1 460.1 L620.9 456.5 L618.9 452.8 L617.0 448.8 L615.4 444.7 L613.9 440.4 L612.6 436.0 L611.5 431.4 L610.7 426.7 L610.0 421.9 L609.5 417.0 L609.3 412.0 L609.2 406.9 L609.3 401.8 L609.7 396.6 L610.3 391.4 L611.0 386.2 L612.0 380.9 L613.2 375.7 L614.5 370.6 L616.1 365.4 L617.9 360.3 L619.8 355.3 L621.9 350.4 L624.2 345.6 L626.6 340.9 L629.2 336.3 L632.0 331.9 L634.9 327.6 L637.9 323.4 L641.1 319.5 L644.4 315.7 L647.8 312.1 L651.3 308.7 L654.9 305.6 L658.5 302.6 L662.3 299.9 L666.1 297.4 L669.9 295.2 L673.8 293.2 L677.7 291.5 L681.7 290.1 L685.6 288.9 L689.6 287.9 L693.5 287.3 L697.4 286.9 L701.2 286.8 L705.1 287.0 L708.8 287.4 L712.5 288.2 L716.1 289.2 L719.6 290.4" fill="none" stroke="#111" stroke-width="2.0" />
<path d="M736.2 296.1 L739.7 297.4 L743.0 299.0 L746.3 300.9 L749.4 303.0 L752.5 305.3 L755.3 307.9 L758.1 310.7 L760.6 313.8 L763.1 317.1 L765.3 320.5 L767.4 324.2 L769.3 328.1 L771.1 332.1 L772.6 336.3 L774.0 340.6 L775.1 345.1 L776.1 349.8 L776.8 354.5 L777.4 359.4 L777.7 364.3 L777.9 369.3 L777.8 374.4 L777.6 379.5 L777.1 384.7 L776.4 389.9 L775.6 395.1 L774.5 400.2 L773.2 405.4 L771.8 410.5 L770.1 415.6 L768.3 420.6 L766.3 425.6 L764.1 430.4 L761.8 435.2 L759.2 439.8 L756.6 444.3 L753.8 448.6 L750.8 452.8 L747.7 456.9 L744.5 460.7 L741.2 464.4 L737.8 467.9 L734.3 471.2 L730.7 474.2 L727.0 477.0 L723.2 479.6 L719.4 482.0 L715.6 484.1 L711.7 486.0 L707.8 487.6 L703.9 488.9 L700.0 490.0 L696.1 490.8 L692.2 491.4 L688.3 491.6 L684.5 491.6 L680.7 491.4 L677.0 490.8 L673.4 490.0 L669.8 488.9 L666.3 487.6 L663.0 486.0 L659.7 484.1 L656.6 482.0 L653.5 479.7 L650.7 477.1 L647.9 474.3 L645.4 471.2 L642.9 467.9 L640.7 464.5 L638.6 460.8 L636.7 456.9 L634.9 452.9 L633.4 448.7 L632.0 444.4 L630.9 439.9 L629.9 435.2 L629.2 430.5 L628.6 425.6 L628.3 420.7 L628.1 415.7 L628.2 410.6 L628.4 405.5 L628.9 400.3 L629.6 395.1 L630.4 389.9 L631.5 384.8 L632.8 379.6 L634.2 374.5 L635.9 369.4 L637.7 364.4 L639.7 359.4 L641.9 354.6 L644.2 349.8 L646.8 345.2 L649.4 340.7 L652.2 336.4 L655.2 332.2 L658.3 328.1 L661.5 324.3 L664.8 320.6 L668.2 317.1 L671.7 313.8 L675.3 310.8 L679.0 308.0 L682.8 305.4 L686.6 303.0 L690.4 300.9 L694.3 299.0 L698.2 297.4 L702.1 296.1 L706.0 295.0 L709.9 294.2 L713.8 293.6 L717.7 293.4 L721.5 293.4 L725.3 293.6 L729.0 294.2 L732.6 295.0 L736.2 296.1Z" fill="none" stroke="#111" stroke-width="1.8" />
<path d="M717.3 289.5 L743.0 299.0" fill="none" stroke="#111" stroke-width="2.0"/>
<path d="M650.9 482.4 L669.8 488.9" fill="none" stroke="#111" stroke-width="2.0"/>
<path d="M618.0 446.5 L632.4 453.3" fill="none" stroke="#111" stroke-width="1.4"/>
<path d="M734.6 300.8 L737.9 302.1 L741.1 303.6 L744.2 305.4 L747.2 307.4 L750.0 309.6 L752.8 312.1 L755.4 314.8 L757.8 317.7 L760.1 320.8 L762.3 324.1 L764.2 327.5 L766.1 331.2 L767.7 335.1 L769.2 339.0 L770.5 343.2 L771.6 347.5 L772.5 351.9 L773.2 356.4 L773.7 361.0 L774.1 365.7 L774.2 370.4 L774.1 375.3 L773.9 380.1 L773.5 385.1 L772.8 390.0 L772.0 394.9 L771.0 399.9 L769.8 404.8 L768.4 409.6 L766.8 414.5 L765.1 419.2 L763.2 423.9 L761.1 428.6 L758.9 433.1 L756.5 437.5 L753.9 441.7 L751.3 445.9 L748.5 449.9 L745.5 453.7 L742.5 457.4 L739.3 460.9 L736.1 464.2 L732.7 467.3 L729.3 470.2 L725.8 472.9 L722.2 475.4 L718.6 477.6 L715.0 479.6 L711.3 481.4 L707.6 482.9 L703.8 484.2 L700.1 485.2 L696.4 486.0 L692.7 486.5 L689.0 486.8 L685.4 486.8 L681.8 486.5 L678.3 486.0 L674.8 485.2 L671.4 484.2 L668.1 482.9 L664.9 481.4 L661.8 479.6 L658.8 477.6 L656.0 475.4 L653.2 472.9 L650.6 470.2 L648.2 467.3 L645.9 464.2 L643.7 460.9 L641.8 457.5 L639.9 453.8 L638.3 449.9 L636.8 446.0 L635.5 441.8 L634.4 437.5 L633.5 433.1 L632.8 428.6 L632.3 424.0 L631.9 419.3 L631.8 414.6 L631.9 409.7 L632.1 404.9 L632.5 399.9 L633.2 395.0 L634.0 390.1 L635.0 385.1 L636.2 380.2 L637.6 375.4 L639.2 370.5 L640.9 365.8 L642.8 361.1 L644.9 356.4 L647.1 351.9 L649.5 347.5 L652.1 343.3 L654.7 339.1 L657.5 335.1 L660.5 331.3 L663.5 327.6 L666.7 324.1 L669.9 320.8 L673.3 317.7 L676.7 314.8 L680.2 312.1 L683.8 309.6 L687.4 307.4 L691.0 305.4 L694.7 303.6 L698.4 302.1 L702.2 300.8 L705.9 299.8 L709.6 299.0 L713.3 298.5 L717.0 298.2 L720.6 298.2 L724.2 298.5 L727.7 299.0 L731.2 299.8 L734.6 300.8Z" fill="none" stroke="#111" stroke-width="1.1" />
<path d="M733.3 304.6 L736.4 305.8 L739.5 307.2 L742.4 308.9 L745.3 310.9 L748.0 313.0 L750.6 315.4 L753.1 317.9 L755.5 320.7 L757.7 323.7 L759.7 326.8 L761.6 330.2 L763.3 333.7 L764.9 337.4 L766.3 341.2 L767.5 345.2 L768.6 349.3 L769.4 353.5 L770.1 357.8 L770.6 362.2 L771.0 366.7 L771.1 371.3 L771.0 375.9 L770.8 380.6 L770.4 385.3 L769.7 390.0 L768.9 394.8 L768.0 399.5 L766.8 404.2 L765.5 408.9 L764.0 413.5 L762.3 418.1 L760.5 422.6 L758.5 427.0 L756.4 431.3 L754.1 435.5 L751.6 439.6 L749.1 443.6 L746.4 447.4 L743.6 451.1 L740.7 454.7 L737.7 458.0 L734.5 461.2 L731.3 464.2 L728.1 466.9 L724.7 469.5 L721.3 471.9 L717.8 474.1 L714.4 476.0 L710.8 477.7 L707.3 479.2 L703.7 480.4 L700.1 481.4 L696.6 482.1 L693.0 482.6 L689.5 482.9 L686.1 482.9 L682.6 482.6 L679.3 482.1 L676.0 481.4 L672.7 480.4 L669.6 479.2 L666.5 477.8 L663.6 476.1 L660.7 474.1 L658.0 472.0 L655.4 469.6 L652.9 467.1 L650.5 464.3 L648.3 461.3 L646.3 458.2 L644.4 454.8 L642.7 451.3 L641.1 447.6 L639.7 443.8 L638.5 439.8 L637.4 435.7 L636.6 431.5 L635.9 427.2 L635.4 422.8 L635.0 418.3 L634.9 413.7 L635.0 409.1 L635.2 404.4 L635.6 399.7 L636.3 395.0 L637.1 390.2 L638.0 385.5 L639.2 380.8 L640.5 376.1 L642.0 371.5 L643.7 366.9 L645.5 362.4 L647.5 358.0 L649.6 353.7 L651.9 349.5 L654.4 345.4 L656.9 341.4 L659.6 337.6 L662.4 333.9 L665.3 330.3 L668.3 327.0 L671.5 323.8 L674.7 320.8 L677.9 318.1 L681.3 315.5 L684.7 313.1 L688.2 310.9 L691.6 309.0 L695.2 307.3 L698.7 305.8 L702.3 304.6 L705.9 303.6 L709.4 302.9 L713.0 302.4 L716.5 302.1 L719.9 302.1 L723.4 302.4 L726.7 302.9 L730.0 303.6 L733.3 304.6Z" fill="none" stroke="#111" stroke-width="1.5" />
<path d="M721.2 307.1 L724.4 307.5 L727.6 308.1 L730.6 309.0 L733.6 310.0 L736.6 311.3 L739.4 312.9 L742.1 314.6 L744.8 316.6 L747.3 318.7 L749.6 321.1 L751.9 323.7 L754.0 326.4 L756.0 329.4 L757.9 332.5 L759.6 335.7 L761.1 339.2 L762.5 342.7 L763.7 346.4 L764.7 350.3 L765.6 354.2 L766.3 358.3 L766.8 362.4 L767.2 366.7 L767.4 371.0 L767.4 375.3 L767.2 379.7 L766.9 384.2 L766.3 388.7 L765.6 393.1 L764.8 397.6 L763.7 402.1 L762.5 406.5 L761.2 410.9 L759.6 415.3 L758.0 419.5 L756.1 423.7 L754.2 427.9 L752.0 431.9 L749.8 435.8 L747.4 439.6 L744.9 443.3 L742.3 446.8 L739.6 450.2 L736.7 453.4 L733.8 456.5 L730.8 459.4 L727.7 462.1 L724.6 464.6 L721.4 466.9 L718.1 469.0 L714.8 470.9 L711.5 472.6 L708.1 474.0 L704.8 475.3 L701.4 476.3 L698.0 477.1 L694.7 477.6 L691.4 478.0 L688.1 478.0 L684.8 477.9 L681.6 477.5 L678.4 476.9 L675.4 476.0 L672.4 475.0 L669.4 473.7 L666.6 472.1 L663.9 470.4 L661.2 468.4 L658.7 466.3 L656.4 463.9" fill="none" stroke="#111" stroke-width="1.1" />
<path d="M724.5 302.3 L727.9 302.9 L731.2 303.7 L734.4 304.8 L737.5 306.1 L740.6 307.6 L743.5 309.4 L746.3 311.4 L749.1 313.6 L751.6 316.0 L754.1 318.7 L756.4 321.5 L758.6 324.6 L760.6 327.8 L762.4 331.2 L764.1 334.8 L765.6 338.6 L767.0 342.4 L768.2 346.5 L769.1 350.6 L770.0 354.9 L770.6 359.2 L771.0 363.7 L771.3 368.2 L771.4 372.8 L768.1 368.2 L767.8 363.8 L767.3 359.5 L766.6 355.2 L765.7 351.1 L764.6 347.1 L763.3 343.2 L761.9 339.5 L760.3 335.9 L758.5 332.5 L756.6 329.3 L754.5 326.2 L752.2 323.4 L749.8 320.7 L747.3 318.3 L744.6 316.0 L741.9 314.0 L739.0 312.3 L736.0 310.7 L732.9 309.4 L729.7 308.4Z" fill="#111" stroke="#111" stroke-width="0.6" />
<path d="M706.9 465.1 L703.8 466.2 L700.7 467.0 L697.7 467.7 L694.6 468.1 L691.5 468.3 L688.5 468.3 L685.6 468.1 L682.6 467.6 L679.8 467.0 L677.0 466.1 L674.2 465.1 L671.6 463.8 L669.0 462.4 L666.5 460.7 L664.1 458.8 L661.9 456.8 L659.7 454.6 L657.7 452.2 L655.8 449.6 L654.0 446.9 L652.3 444.0 L650.8 441.0 L649.4 437.8 L648.2 434.5 L647.1 431.1 L646.2 427.6 L645.5 423.9 L644.9 420.2 L644.4 416.4 L644.1 412.5 L644.0 408.6 L644.0 404.6 L644.2 400.6 L644.6 396.5 L645.1 392.5 L645.8 388.4 L646.6 384.3 L647.6 380.3 L648.8 376.3 L650.1 372.3 L651.5 368.3 L653.1 364.5 L654.8 360.7 L656.6 356.9 L658.6 353.3 L660.7 349.8 L662.9 346.4 L665.2 343.1 L667.6 339.9 L670.2 336.9 L672.8 334.0 L675.5 331.3 L678.2 328.7 L681.1 326.3 L684.0 324.1 L686.9 322.1 L689.9 320.2 L692.9 318.6 L696.0 317.1 L699.1 315.9 L702.2 314.8 L705.3 314.0 L708.3 313.3 L711.4 312.9 L714.5 312.7 L717.5 312.7 L720.4 312.9 L723.4 313.4 L726.2 314.0 L729.0 314.9 L731.8 315.9 L734.4 317.2 L737.0 318.6 L739.5 320.3" fill="none" stroke="#111" stroke-width="2.0" />
<path d="M739.5 320.3 L741.9 322.2 L744.1 324.2 L746.3 326.4 L748.3 328.8 L750.2 331.4 L752.0 334.1 L753.7 337.0 L755.2 340.0 L756.6 343.2 L757.8 346.5 L758.9 349.9 L759.8 353.4 L760.5 357.1 L761.1 360.8 L761.6 364.6 L761.9 368.5 L762.0 372.4 L762.0 376.4 L761.8 380.4 L761.4 384.5 L760.9 388.5 L760.2 392.6 L759.4 396.7 L758.4 400.7 L757.2 404.7 L755.9 408.7 L754.5 412.7 L752.9 416.5 L751.2 420.3 L749.4 424.1 L747.4 427.7 L745.3 431.2 L743.1 434.6 L740.8 437.9 L738.4 441.1 L735.8 444.1 L733.2 447.0 L730.5 449.7 L727.8 452.3 L724.9 454.7 L722.0 456.9 L719.1 458.9 L716.1 460.8 L713.1 462.4 L710.0 463.9 L706.9 465.1" fill="none" stroke="#111" stroke-width="1.2" />
<path d="M720.1 312.6 L722.6 314.2 L725.1 316.0 L727.4 318.0 L729.6 320.2 L731.7 322.6 L733.7 325.2 L735.5 327.9 L737.2 330.8 L738.8 333.8 L740.2 337.0 L741.5 340.3 L742.6 343.7 L743.6 347.3 L744.4 350.9 L745.0 354.7 L745.5 358.5 L745.8 362.5 L745.9 366.4 L745.9 370.5 L745.7 374.5 L745.4 378.6 L744.8 382.7 L744.2 386.9 L743.3 391.0 L742.3 395.1 L741.2 399.2 L739.9 403.2 L738.4 407.2 L736.8 411.1 L735.1 414.9 L733.2 418.7 L731.2 422.4 L729.1 425.9 L726.8 429.4 L724.5 432.7 L722.0 435.9 L719.4 438.9 L716.8 441.8 L714.0 444.6 L711.2 447.1 L708.4 449.5 L705.4 451.7 L702.4 453.8 L699.4 455.6 L696.3 457.2 L693.2 458.6 L690.1 459.9 L687.0 460.9 L683.8 461.7 L680.7 462.3 L677.6 462.6 L674.5 462.8 L671.5 462.7 L668.5 462.4" fill="none" stroke="#111" stroke-width="1.8" />
<path d="M712.0 312.6 L721.0 313.0 L733.5 318.8 L744.3 325.5 L752.0 333.5 L753.4 339.0 L746.2 340.2 L742.6 335.6 L739.3 332.0 L731.8 324.7 L722.7 317.6Z" fill="#111" stroke="#111" stroke-width="0.6" />
<path d="M655.4 469.6 L652.9 467.1 L650.5 464.3 L648.3 461.3 L646.3 458.2 L644.4 454.8 L642.7 451.3 L641.1 447.6 L639.7 443.8 L643.9 441.7 L645.2 445.3 L646.6 448.8 L648.2 452.1 L649.9 455.3 L651.8 458.3 L653.8 461.1 L655.9 463.7 L658.2 466.1Z" fill="#111" stroke="#111" stroke-width="0.5" />
<path d="M707.0 476.8 L703.5 478.0 L700.0 479.0 L696.5 479.7 L693.0 480.2 L689.5 480.4 L686.1 480.4 L682.7 480.2 L679.4 479.6 L676.1 478.9 L673.0 477.9 L669.9 476.6 L666.9 475.1 L664.0 473.4 L661.2 471.4 L658.5 469.3 L656.0 466.9 L653.6 464.3 L651.3 461.5" fill="none" stroke="#111" stroke-width="2.2" stroke-dasharray="2.5 2.5"/>
<path d="M726.2 305.0 L729.7 305.8 L733.3 306.9 L736.7 308.3 L739.9 310.0 L743.1 311.9 L746.1 314.2" fill="none" stroke="#fff" stroke-width="1.3" stroke-dasharray="2 3.5"/>
<path d="M880.0 347.4 L883.7 348.8 L887.3 350.5 L890.8 352.5 L894.2 354.7 L897.4 357.1 L900.5 359.7 L903.5 362.6 L906.3 365.8 L909.0 369.1 L911.4 372.6 L913.7 376.3 L915.8 380.2 L917.8 384.3 L919.5 388.6 L921.0 393.0 L922.4 397.5 L923.5 402.1 L924.4 406.9 L925.1 411.8 L925.6 416.7 L925.8 421.8 L925.9 426.8 L925.7 432.0 L925.4 437.1 L924.8 442.3 L924.0 447.5 L923.0 452.7 L921.7 457.8 L920.3 462.9 L918.7 468.0 L916.8 473.0 L914.8 477.9 L912.6 482.7 L910.2 487.4 L907.7 492.0 L905.0 496.4 L902.1 500.7 L899.0 504.8 L895.9 508.8 L892.6 512.6 L889.1 516.2 L885.6 519.6 L881.9 522.8 L878.2 525.8 L874.3 528.5 L870.4 531.1 L866.4 533.3 L862.4 535.4 L858.3 537.1 L854.2 538.7 L850.1 539.9 L846.0 540.9 L841.9 541.7 L837.8 542.1 L833.7 542.3 L829.6 542.2 L825.6 541.9 L821.7 541.2 L817.8 540.3 L814.0 539.2 L810.3 537.8 L806.7 536.1 L803.2 534.1 L799.8 531.9 L796.6 529.5 L793.5 526.9 L790.5 524.0 L787.7 520.8 L785.0 517.5 L782.6 514.0 L780.3 510.3 L778.2 506.4 L776.2 502.3 L774.5 498.0 L773.0 493.6 L771.6 489.1 L770.5 484.5 L769.6 479.7 L768.9 474.8 L768.4 469.9 L768.2 464.8 L768.1 459.8 L768.3 454.6 L768.6 449.5 L769.2 444.3 L770.0 439.1 L771.0 433.9 L772.3 428.8 L773.7 423.7 L775.3 418.6 L777.2 413.6 L779.2 408.7 L781.4 403.9 L783.8 399.2 L786.3 394.6 L789.0 390.2 L791.9 385.9 L795.0 381.8 L798.1 377.8 L801.4 374.0 L804.9 370.4 L808.4 367.0 L812.1 363.8 L815.8 360.8 L819.7 358.1 L823.6 355.5 L827.6 353.3 L831.6 351.2 L835.7 349.5 L839.8 347.9 L843.9 346.7 L848.0 345.7 L852.1 344.9 L856.2 344.5 L860.3 344.3 L864.4 344.4 L868.4 344.7 L872.3 345.4 L876.2 346.3 L880.0 347.4Z" fill="none" stroke="#111" stroke-width="2.6" />
<path d="M878.2 354.4 L881.5 355.7 L884.6 357.2 L887.6 358.9 L890.5 360.9 L893.3 363.0 L896.0 365.5 L898.6 368.1 L901.0 370.9 L903.2 373.9 L905.3 377.1 L907.3 380.5 L909.0 384.1 L910.7 387.9 L912.1 391.7 L913.4 395.8 L914.4 399.9 L915.3 404.2 L916.1 408.6 L916.6 413.1 L916.9 417.7 L917.1 422.3 L917.0 427.0 L916.8 431.8 L916.3 436.6 L915.7 441.4 L914.9 446.2 L913.9 451.0 L912.8 455.7 L911.4 460.5 L909.9 465.2 L908.2 469.8 L906.3 474.4 L904.3 478.9 L902.2 483.3 L899.8 487.6 L897.4 491.7 L894.7 495.7 L892.0 499.6 L889.1 503.4 L886.2 506.9 L883.1 510.3 L879.9 513.5 L876.7 516.6 L873.3 519.4 L869.9 522.0 L866.4 524.4 L862.9 526.6 L859.3 528.5 L855.7 530.3 L852.1 531.7 L848.4 533.0 L844.8 534.0 L841.2 534.7 L837.6 535.2 L834.0 535.5 L830.4 535.5 L826.9 535.2 L823.5 534.7 L820.1 534.0 L816.8 533.0 L813.5 531.7 L810.4 530.2 L807.4 528.5 L804.5 526.5 L801.7 524.4 L799.0 521.9 L796.4 519.3 L794.0 516.5 L791.8 513.5 L789.7 510.3 L787.7 506.9 L786.0 503.3 L784.3 499.5 L782.9 495.7 L781.6 491.6 L780.6 487.5 L779.7 483.2 L778.9 478.8 L778.4 474.3 L778.1 469.7 L777.9 465.1 L778.0 460.4 L778.2 455.6 L778.7 450.8 L779.3 446.0 L780.1 441.2 L781.1 436.4 L782.2 431.7 L783.6 426.9 L785.1 422.2 L786.8 417.6 L788.7 413.0 L790.7 408.5 L792.8 404.1 L795.2 399.8 L797.6 395.7 L800.3 391.7 L803.0 387.8 L805.9 384.0 L808.8 380.5 L811.9 377.1 L815.1 373.9 L818.3 370.8 L821.7 368.0 L825.1 365.4 L828.6 363.0 L832.1 360.8 L835.7 358.9 L839.3 357.1 L842.9 355.7 L846.6 354.4 L850.2 353.4 L853.8 352.7 L857.4 352.2 L861.0 351.9 L864.6 351.9 L868.1 352.2 L871.5 352.7 L874.9 353.4 L878.2 354.4Z" fill="none" stroke="#111" stroke-width="2.0" />
<path d="M793.9 523.1 L791.2 520.1 L788.7 516.9 L786.3 513.5 L784.1 509.9 L782.0 506.2 L780.2 502.2 L778.5 498.1 L777.0 493.8 L775.7 489.4 L774.7 484.9 L773.8 480.2 L773.1 475.5 L772.7 470.6 L772.4 465.7 L772.4 460.7 L772.6 455.7 L773.0 450.6 L773.5 445.5 L774.4 440.4 L775.4 435.3 L776.6 430.2 L778.0 425.2 L779.6 420.2 L781.4 415.3 L783.4 410.5 L785.5 405.7 L787.9 401.1 L790.4 396.6 L793.0 392.2 L795.9 388.0 L798.8 383.9 L801.9 380.0 L805.2 376.3 L808.5 372.7 L812.0 369.4 L815.5 366.2 L819.2 363.3 L822.9 360.6 L826.7 358.2 L830.5 356.0 L834.4 354.0 L838.3 352.3 L842.3 350.8 L846.3 349.6 L850.2 348.7 L854.2 348.0" fill="none" stroke="#555" stroke-width="0.8" />
<path d="M920.4 417.1 L920.6 422.0 L920.6 426.8 L920.4 431.7 L920.0 436.7 L919.3 441.7 L918.5 446.6 L917.5 451.6 L916.3 456.5 L915.0 461.4 L913.4 466.3 L911.6 471.1 L909.7 475.8 L907.6 480.4 L905.3 485.0 L902.9 489.4 L900.3 493.7 L897.6 497.8 L894.8 501.8 L891.8 505.7 L888.6 509.3 L885.4 512.8 L882.1 516.1 L878.7 519.2 L875.1 522.1 L871.6 524.8 L867.9 527.3 L864.2 529.5 L860.4 531.5 L856.6 533.2 L852.8 534.7" fill="none" stroke="#555" stroke-width="0.8" />
<path d="M952.7 576.8 L949.8 574.8 L947.1 572.6 L944.5 570.1 L942.0 567.3 L939.7 564.4 L937.5 561.3 L935.5 558.0 L933.7 554.5 L947.8 561.2 L949.7 564.4 L951.7 567.5 L953.8 570.4 L956.1 573.1 L958.5 575.6 L961.1 577.9 L963.8 580.0 L966.6 581.9 L969.4 583.6Z" fill="#111" stroke="#111" stroke-width="1.0" />
<path d="M964.7 582.4 L961.5 581.3 L958.4 580.1 L955.5 578.5 L952.6 576.8 L949.8 574.8 L947.2 572.7 L944.7 570.3 L942.3 567.7 L940.0 564.9 L937.9 561.9 L936.0 558.7 L934.2 555.4 L932.5 551.9 L931.0 548.2 L929.7 544.4 L928.6 540.5 L927.6 536.4 L926.9 532.2 L926.3 527.9 L925.8 523.6 L925.6 519.1 L925.6 514.6 L925.7 510.1 L926.0 505.5 L926.5 500.9 L927.2 496.2 L928.0 491.6 L929.1 487.0 L930.3 482.4 L931.7 477.8 L933.2 473.3 L935.0 468.9 L936.8 464.5 L938.9 460.2 L941.0 456.0 L943.3 452.0 L945.8 448.0 L948.4 444.2 L951.1 440.5 L953.9 437.0 L956.8 433.7 L959.8 430.5 L962.9 427.5 L966.1 424.7 L969.4 422.1 L972.7 419.7 L976.1 417.5 L979.5 415.5 L982.9 413.7 L986.4 412.2 L989.9 410.9 L993.4 409.9 L996.9 409.0 L1000.4 408.5 L1003.8 408.1 L1007.3 408.0 L1010.7 408.2 L1014.0 408.6 L1017.3 409.2 L1020.5 410.1 L1023.6 411.2" fill="none" stroke="#111" stroke-width="2.0" />
<path d="M1039.6 417.0 L1042.5 418.6 L1045.3 420.4 L1048.0 422.4 L1050.6 424.7 L1053.1 427.1 L1055.4 429.8 L1057.6 432.6 L1059.7 435.6 L1061.6 438.8 L1063.3 442.2 L1064.9 445.7 L1066.4 449.4 L1067.6 453.2 L1068.7 457.2 L1069.6 461.2 L1070.3 465.4 L1070.9 469.7 L1071.3 474.0 L1071.5 478.5 L1071.5 483.0 L1071.3 487.5 L1071.0 492.1 L1070.4 496.7 L1069.7 501.3 L1068.8 505.9 L1067.8 510.5 L1066.5 515.1 L1065.1 519.6 L1063.5 524.1 L1061.8 528.5 L1059.9 532.8 L1057.9 537.0 L1055.7 541.2 L1053.4 545.2 L1050.9 549.1 L1048.3 552.9 L1045.7 556.5 L1042.8 560.0 L1039.9 563.3 L1036.9 566.5 L1033.8 569.4 L1030.6 572.2 L1027.4 574.8 L1024.1 577.2 L1020.7 579.3 L1017.3 581.3 L1013.9 583.0 L1010.4 584.5 L1007.0 585.8 L1003.5 586.8 L1000.0 587.6 L996.5 588.2 L993.1 588.5 L989.7 588.6 L986.3 588.4 L983.0 588.0 L979.7 587.4 L976.6 586.5 L973.5 585.4 L970.4 584.1 L967.5 582.5 L964.7 580.7 L962.0 578.7 L959.4 576.4 L956.9 574.0" fill="none" stroke="#111" stroke-width="2.0" />
<path d="M956.9 574.0 L954.5 571.3 L952.2 568.3 L950.1 565.2 L948.2 561.8 L946.4 558.3 L944.8 554.7 L943.3 550.8 L942.1 546.8 L941.0 542.7 L940.1 538.5 L939.4 534.1 L938.9 529.7 L938.6 525.1 L938.5 520.5 L938.6 515.9 L938.9 511.2 L939.3 506.4 L940.0 501.7 L940.8 496.9 L941.9 492.1" fill="none" stroke="#111" stroke-width="1.0" />
<path d="M968.1 440.0 L971.2 436.6 L974.3 433.4 L977.5 430.4 L980.8 427.7 L984.2 425.1 L987.7 422.8 L991.2 420.7 L994.7 418.8 L998.3 417.1 L1001.8 415.7 L1005.4 414.6 L1009.0 413.7 L1012.6 413.0 L1016.1 412.6 L1019.7 412.5 L1023.2 412.6 L1026.6 413.0 L1029.9 413.6 L1033.2 414.5 L1036.4 415.7 L1039.6 417.0" fill="none" stroke="#111" stroke-width="1.0" />
<path d="M1021.5 410.5 L1042.5 418.6" fill="none" stroke="#111" stroke-width="2.0"/>
<path d="M962.6 581.7 L973.5 585.4" fill="none" stroke="#111" stroke-width="2.0"/>
<path d="M1023.7 426.5 L1026.1 427.5 L1028.4 428.6 L1030.6 429.9 L1032.7 431.4 L1034.8 433.0 L1036.7 434.9 L1038.5 436.9 L1040.2 439.1 L1041.9 441.4 L1043.4 443.9 L1044.7 446.6 L1046.0 449.4 L1047.1 452.3 L1048.1 455.3 L1049.0 458.5 L1049.7 461.7 L1050.3 465.1 L1050.7 468.5 L1051.0 472.1 L1051.2 475.7 L1051.2 479.3 L1051.1 483.0 L1050.8 486.8 L1050.4 490.6 L1049.9 494.4 L1049.2 498.2 L1048.3 502.0 L1047.4 505.8 L1046.3 509.5 L1045.1 513.3 L1043.7 517.0 L1042.3 520.6 L1040.7 524.2 L1039.0 527.7 L1037.2 531.1 L1035.3 534.4 L1033.3 537.7 L1031.2 540.8 L1029.0 543.8 L1026.7 546.6 L1024.4 549.4 L1022.0 552.0 L1019.5 554.4 L1017.0 556.7 L1014.4 558.8 L1011.8 560.8 L1009.1 562.6 L1006.4 564.2 L1003.7 565.6 L1001.0 566.8 L998.3 567.9 L995.6 568.7 L992.9 569.4 L990.2 569.9 L987.5 570.1 L984.9 570.2 L982.3 570.1 L979.8 569.7 L977.3 569.2 L974.9 568.5 L972.5 567.5 L970.2 566.4 L968.0 565.1 L965.9 563.6 L963.8 562.0 L961.9 560.1 L960.1 558.1 L958.4 555.9 L956.7 553.6 L955.2 551.1 L953.9 548.4 L952.6 545.6 L951.5 542.7 L950.5 539.7 L949.6 536.5 L948.9 533.3 L948.3 529.9 L947.9 526.5 L947.6 522.9 L947.4 519.3 L947.4 515.7 L947.5 512.0 L947.8 508.2 L948.2 504.4 L948.7 500.6 L949.4 496.8 L950.3 493.0 L951.2 489.2 L952.3 485.5 L953.5 481.7 L954.9 478.0 L956.3 474.4 L957.9 470.8 L959.6 467.3 L961.4 463.9 L963.3 460.6 L965.3 457.3 L967.4 454.2 L969.6 451.2 L971.9 448.4 L974.2 445.6 L976.6 443.0 L979.1 440.6 L981.6 438.3 L984.2 436.2 L986.8 434.2 L989.5 432.4 L992.2 430.8 L994.9 429.4 L997.6 428.2 L1000.3 427.1 L1003.0 426.3 L1005.7 425.6 L1008.4 425.1 L1011.1 424.9 L1013.7 424.8 L1016.3 424.9 L1018.8 425.3 L1021.3 425.8 L1023.7 426.5Z" fill="none" stroke="#111" stroke-width="2.0" />
<path d="M1047.4 439.8 L1049.2 442.4 L1050.8 445.1 L1052.3 448.0 L1053.6 451.0 L1054.8 454.2 L1055.8 457.5 L1056.7 460.9 L1057.5 464.4 L1058.1 468.1 L1058.5 471.8 L1058.8 475.6 L1059.0 479.5 L1059.0 483.4 L1058.8 487.4 L1058.5 491.4 L1058.0 495.4 L1057.4 499.5 L1056.6 503.5 L1055.7 507.6 L1054.6 511.6 L1053.4 515.6 L1052.0 519.6 L1050.5 523.5 L1048.9 527.3 L1047.2 531.1 L1045.3 534.8 L1043.3 538.4 L1041.2 541.9 L1039.0 545.2 L1036.7 548.5 L1034.3 551.6 L1031.8 554.6 L1029.2 557.4 L1026.6 560.1 L1023.9 562.6 L1021.1 564.9 L1018.3 567.1 L1015.5 569.0 L1012.6 570.8 L1009.7 572.4 L1006.7 573.8 L1003.8 575.0 L1000.8 576.0 L997.9 576.7 L995.0 577.3 L992.1 577.7 L989.2 577.8 L986.4 577.7 L983.6 577.4 L980.8 576.9 L978.2 576.2 L975.5 575.3 L973.0 574.2 L970.6 572.8 L968.2 571.3 L966.0 569.6 L963.8 567.7 L961.7 565.6 L959.8 563.3 L958.0 560.8 L956.3 558.2 L954.7 555.4 L953.3 552.5" fill="none" stroke="#111" stroke-width="1.2" />
<path d="M953.3 552.5 L952.0 549.4 L950.9 546.1 L949.9 542.8 L949.0 539.3 L948.3 535.7 L947.7 532.0 L947.3 528.3 L947.1 524.4 L947.0 520.5 L947.1 516.5 L947.3 512.5 L947.7 508.4 L948.2 504.4 L948.9 500.3 L949.8 496.2 L950.8 492.1 L951.9 488.1 L953.2 484.1 L954.6 480.1 L956.2 476.2 L957.9 472.4 L959.7 468.6 L961.6 464.9 L963.7 461.4 L965.8 457.9 L968.1 454.6 L970.5 451.4 L972.9 448.3 L975.5 445.4 L978.1 442.6 L980.8 440.0 L983.5 437.6 L986.4 435.3 L989.2 433.2 L992.1 431.4 L995.0 429.7 L998.0 428.2 L1000.9 426.9 L1003.9 425.8 L1006.9 425.0 L1009.8 424.3 L1012.8 423.9 L1015.7 423.6 L1018.5 423.6 L1021.4 423.8 L1024.1 424.3 L1026.9 424.9 L1029.5 425.7 L1032.1 426.8 L1034.6 428.1 L1037.0 429.5 L1039.3 431.2 L1041.5 433.1 L1043.6 435.1 L1045.6 437.4 L1047.4 439.8" fill="none" stroke="#111" stroke-width="1.3" />
<path d="M1026.0 428.0 L1038.5 434.4 L1047.4 443.3 L1049.9 449.0 L1046.1 449.7 L1042.3 443.3 L1034.6 436.3 L1028.3 431.2Z" fill="#111" stroke="#111" stroke-width="0.6" />
<path d="M1059.4 452.5 L1060.6 456.0 L1061.7 459.7 L1062.6 463.5 L1063.4 467.4 L1063.9 471.4 L1064.3 475.5 L1064.6 479.6 L1064.6 483.8 L1064.5 488.1 L1064.2 492.4 L1063.7 496.7 L1063.1 501.0 L1062.3 505.4 L1061.3 509.7 L1060.1 514.0 L1058.8 518.2 L1057.4 522.4 L1055.7 526.6 L1054.0 530.6 L1052.0 534.6 L1050.0 538.5 L1047.8 542.3 L1045.5 545.9 L1043.0 549.5 L1040.5 552.9 L1037.8 556.1 L1035.0 559.2 L1032.2 562.1 L1029.3 564.9 L1026.2 567.4 L1023.2 569.8 L1020.0 572.0 L1016.9 573.9 L1013.6 575.7 L1010.4 577.3 L1007.1 578.6" fill="none" stroke="#999" stroke-width="1.6" />
<path d="M984 572 L1000 573.5 L1000 578 L984 577Z" fill="#888" stroke="none"/>
<path d="M199.3 221.7 L246.5 237.0" fill="none" stroke="#111" stroke-width="1.7"/>
<path d="M262.0 243.0 L311.0 260.0" fill="none" stroke="#111" stroke-width="1.7"/>
<path d="M581.5 353.6 L604.8 360.2" fill="none" stroke="#111" stroke-width="1.7"/>
<path d="M661.3 378.7 L718.6 398.8" fill="none" stroke="#111" stroke-width="1.7"/>
<path d="M730.0 402.6 L776.0 418.3" fill="none" stroke="#111" stroke-width="1.7"/>
<path d="M795.8 425.4 L839.9 440.8" fill="none" stroke="#111" stroke-width="1.7"/>
<path d="M858.0 447.7 L934.4 475.2" fill="none" stroke="#111" stroke-width="1.7"/>
<path d="M971.0 488.0 L1023.6 506.4" fill="none" stroke="#111" stroke-width="1.7"/>
<path d="M254.7 240.4 L256.5 241.0" fill="none" stroke="#111" stroke-width="1.8"/>
<path d="M317.6 261.7 L319.4 262.3" fill="none" stroke="#111" stroke-width="1.8"/>
<path d="M608.6 360.8 L610.4 361.4" fill="none" stroke="#111" stroke-width="1.8"/>
<path d="M651.8 375.2 L653.6 375.8" fill="none" stroke="#111" stroke-width="1.8"/>
<path d="M723.4 400.7 L725.2 401.3" fill="none" stroke="#111" stroke-width="1.8"/>
<path d="M789.5 422.9 L791.3 423.5" fill="none" stroke="#111" stroke-width="1.8"/>
<path d="M847.6 444.2 L849.4 444.8" fill="none" stroke="#111" stroke-width="1.8"/>
<path d="M959.3 484.2 L961.1 484.8" fill="none" stroke="#111" stroke-width="1.8"/>
</g>
</svg>
</body></html>
